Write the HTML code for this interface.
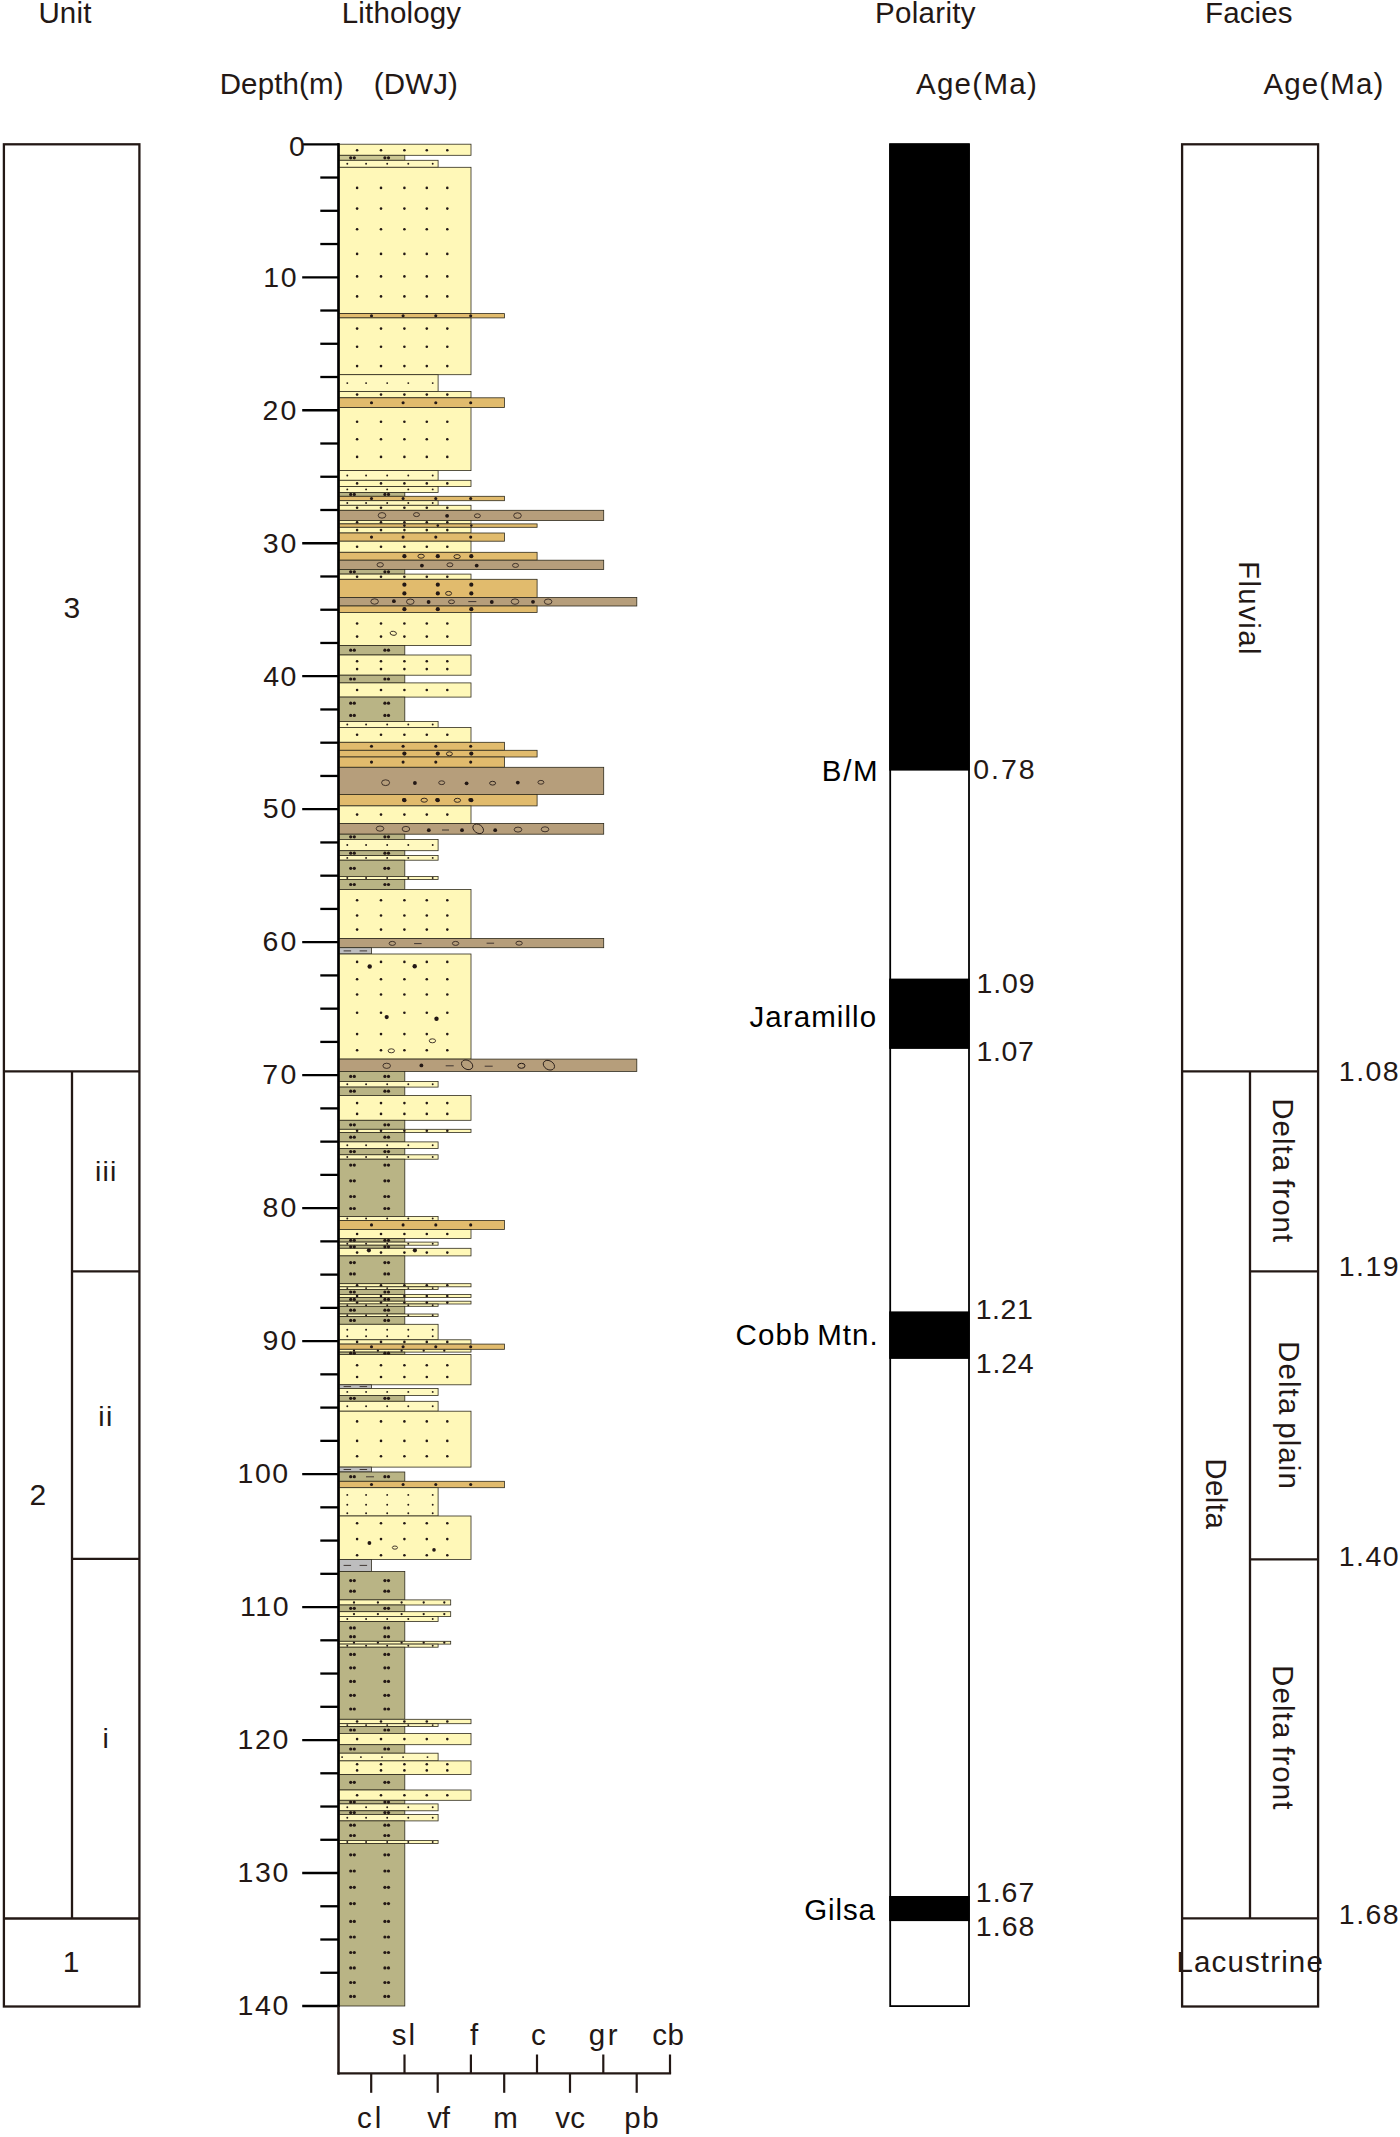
<!DOCTYPE html>
<html><head><meta charset="utf-8"><title>Stratigraphic column</title>
<style>
html,body{margin:0;padding:0;background:#fff}
svg{display:block}
text{font-family:"Liberation Sans",sans-serif;white-space:pre}
</style></head><body>
<svg width="1400" height="2137" viewBox="0 0 1400 2137">
<rect width="1400" height="2137" fill="#fff"/>
<text x="38.41" y="23.20" font-size="29.5" letter-spacing="0.157" word-spacing="0" fill="#231815">Unit</text>
<text x="341.77" y="23.20" font-size="29.5" letter-spacing="0.154" word-spacing="0" fill="#231815">Lithology</text>
<text x="875.07" y="23.40" font-size="29.5" letter-spacing="0.304" word-spacing="0" fill="#231815">Polarity</text>
<text x="1205.07" y="23.40" font-size="29.5" letter-spacing="0.118" word-spacing="0" fill="#231815">Facies</text>
<text x="219.67" y="93.70" font-size="29.5" letter-spacing="0.148" word-spacing="0" fill="#231815">Depth(m)</text>
<text x="373.86" y="93.70" font-size="29.5" letter-spacing="0.107" word-spacing="0" fill="#231815">(DWJ)</text>
<text x="915.93" y="94.00" font-size="29.5" letter-spacing="1.297" word-spacing="0" fill="#231815">Age(Ma)</text>
<text x="1263.43" y="94.00" font-size="29.5" letter-spacing="1.131" word-spacing="0" fill="#231815">Age(Ma)</text>
<rect x="3.90" y="144.30" width="135.50" height="1862.20" fill="none" stroke="#231815" stroke-width="2.3"/>
<line x1="3.90" y1="1071.40" x2="139.40" y2="1071.40" stroke="#231815" stroke-width="2.3" stroke-linecap="butt"/>
<line x1="72.00" y1="1071.40" x2="72.00" y2="1918.50" stroke="#231815" stroke-width="2.3" stroke-linecap="butt"/>
<line x1="72.00" y1="1271.30" x2="139.40" y2="1271.30" stroke="#231815" stroke-width="2.3" stroke-linecap="butt"/>
<line x1="72.00" y1="1558.80" x2="139.40" y2="1558.80" stroke="#231815" stroke-width="2.3" stroke-linecap="butt"/>
<line x1="3.90" y1="1918.50" x2="139.40" y2="1918.50" stroke="#231815" stroke-width="2.3" stroke-linecap="butt"/>
<text x="63.55" y="618.00" font-size="30" letter-spacing="0.000" word-spacing="0" fill="#231815">3</text>
<text x="94.89" y="1181.30" font-size="28.5" letter-spacing="1.200" word-spacing="0" fill="#231815">iii</text>
<text x="98.36" y="1425.70" font-size="28.5" letter-spacing="1.200" word-spacing="0" fill="#231815">ii</text>
<text x="29.47" y="1505.00" font-size="30" letter-spacing="0.000" word-spacing="0" fill="#231815">2</text>
<text x="102.43" y="1748.20" font-size="28.5" letter-spacing="0.000" word-spacing="0" fill="#231815">i</text>
<text x="62.76" y="1972.30" font-size="30" letter-spacing="0.000" word-spacing="0" fill="#231815">1</text>
<line x1="338.50" y1="143.20" x2="338.50" y2="2007.10" stroke="#000" stroke-width="2.2" stroke-linecap="butt"/>
<line x1="338.50" y1="2006.00" x2="338.50" y2="2074.40" stroke="#231815" stroke-width="2.0" stroke-linecap="butt"/>
<line x1="337.40" y1="2073.30" x2="671.10" y2="2073.30" stroke="#231815" stroke-width="2.3" stroke-linecap="butt"/>
<line x1="302.20" y1="144.30" x2="338.50" y2="144.30" stroke="#000" stroke-width="2.3" stroke-linecap="butt"/>
<line x1="320.30" y1="177.54" x2="338.50" y2="177.54" stroke="#000" stroke-width="2.3" stroke-linecap="butt"/>
<line x1="320.30" y1="210.79" x2="338.50" y2="210.79" stroke="#000" stroke-width="2.3" stroke-linecap="butt"/>
<line x1="320.30" y1="244.03" x2="338.50" y2="244.03" stroke="#000" stroke-width="2.3" stroke-linecap="butt"/>
<line x1="302.20" y1="277.28" x2="338.50" y2="277.28" stroke="#000" stroke-width="2.3" stroke-linecap="butt"/>
<line x1="320.30" y1="310.52" x2="338.50" y2="310.52" stroke="#000" stroke-width="2.3" stroke-linecap="butt"/>
<line x1="320.30" y1="343.77" x2="338.50" y2="343.77" stroke="#000" stroke-width="2.3" stroke-linecap="butt"/>
<line x1="320.30" y1="377.01" x2="338.50" y2="377.01" stroke="#000" stroke-width="2.3" stroke-linecap="butt"/>
<line x1="302.20" y1="410.26" x2="338.50" y2="410.26" stroke="#000" stroke-width="2.3" stroke-linecap="butt"/>
<line x1="320.30" y1="443.50" x2="338.50" y2="443.50" stroke="#000" stroke-width="2.3" stroke-linecap="butt"/>
<line x1="320.30" y1="476.75" x2="338.50" y2="476.75" stroke="#000" stroke-width="2.3" stroke-linecap="butt"/>
<line x1="320.30" y1="509.99" x2="338.50" y2="509.99" stroke="#000" stroke-width="2.3" stroke-linecap="butt"/>
<line x1="302.20" y1="543.24" x2="338.50" y2="543.24" stroke="#000" stroke-width="2.3" stroke-linecap="butt"/>
<line x1="320.30" y1="576.48" x2="338.50" y2="576.48" stroke="#000" stroke-width="2.3" stroke-linecap="butt"/>
<line x1="320.30" y1="609.73" x2="338.50" y2="609.73" stroke="#000" stroke-width="2.3" stroke-linecap="butt"/>
<line x1="320.30" y1="642.97" x2="338.50" y2="642.97" stroke="#000" stroke-width="2.3" stroke-linecap="butt"/>
<line x1="302.20" y1="676.21" x2="338.50" y2="676.21" stroke="#000" stroke-width="2.3" stroke-linecap="butt"/>
<line x1="320.30" y1="709.46" x2="338.50" y2="709.46" stroke="#000" stroke-width="2.3" stroke-linecap="butt"/>
<line x1="320.30" y1="742.70" x2="338.50" y2="742.70" stroke="#000" stroke-width="2.3" stroke-linecap="butt"/>
<line x1="320.30" y1="775.95" x2="338.50" y2="775.95" stroke="#000" stroke-width="2.3" stroke-linecap="butt"/>
<line x1="302.20" y1="809.19" x2="338.50" y2="809.19" stroke="#000" stroke-width="2.3" stroke-linecap="butt"/>
<line x1="320.30" y1="842.44" x2="338.50" y2="842.44" stroke="#000" stroke-width="2.3" stroke-linecap="butt"/>
<line x1="320.30" y1="875.68" x2="338.50" y2="875.68" stroke="#000" stroke-width="2.3" stroke-linecap="butt"/>
<line x1="320.30" y1="908.93" x2="338.50" y2="908.93" stroke="#000" stroke-width="2.3" stroke-linecap="butt"/>
<line x1="302.20" y1="942.17" x2="338.50" y2="942.17" stroke="#000" stroke-width="2.3" stroke-linecap="butt"/>
<line x1="320.30" y1="975.42" x2="338.50" y2="975.42" stroke="#000" stroke-width="2.3" stroke-linecap="butt"/>
<line x1="320.30" y1="1008.66" x2="338.50" y2="1008.66" stroke="#000" stroke-width="2.3" stroke-linecap="butt"/>
<line x1="320.30" y1="1041.91" x2="338.50" y2="1041.91" stroke="#000" stroke-width="2.3" stroke-linecap="butt"/>
<line x1="302.20" y1="1075.15" x2="338.50" y2="1075.15" stroke="#000" stroke-width="2.3" stroke-linecap="butt"/>
<line x1="320.30" y1="1108.39" x2="338.50" y2="1108.39" stroke="#000" stroke-width="2.3" stroke-linecap="butt"/>
<line x1="320.30" y1="1141.64" x2="338.50" y2="1141.64" stroke="#000" stroke-width="2.3" stroke-linecap="butt"/>
<line x1="320.30" y1="1174.88" x2="338.50" y2="1174.88" stroke="#000" stroke-width="2.3" stroke-linecap="butt"/>
<line x1="302.20" y1="1208.13" x2="338.50" y2="1208.13" stroke="#000" stroke-width="2.3" stroke-linecap="butt"/>
<line x1="320.30" y1="1241.37" x2="338.50" y2="1241.37" stroke="#000" stroke-width="2.3" stroke-linecap="butt"/>
<line x1="320.30" y1="1274.62" x2="338.50" y2="1274.62" stroke="#000" stroke-width="2.3" stroke-linecap="butt"/>
<line x1="320.30" y1="1307.86" x2="338.50" y2="1307.86" stroke="#000" stroke-width="2.3" stroke-linecap="butt"/>
<line x1="302.20" y1="1341.11" x2="338.50" y2="1341.11" stroke="#000" stroke-width="2.3" stroke-linecap="butt"/>
<line x1="320.30" y1="1374.35" x2="338.50" y2="1374.35" stroke="#000" stroke-width="2.3" stroke-linecap="butt"/>
<line x1="320.30" y1="1407.60" x2="338.50" y2="1407.60" stroke="#000" stroke-width="2.3" stroke-linecap="butt"/>
<line x1="320.30" y1="1440.84" x2="338.50" y2="1440.84" stroke="#000" stroke-width="2.3" stroke-linecap="butt"/>
<line x1="302.20" y1="1474.09" x2="338.50" y2="1474.09" stroke="#000" stroke-width="2.3" stroke-linecap="butt"/>
<line x1="320.30" y1="1507.33" x2="338.50" y2="1507.33" stroke="#000" stroke-width="2.3" stroke-linecap="butt"/>
<line x1="320.30" y1="1540.58" x2="338.50" y2="1540.58" stroke="#000" stroke-width="2.3" stroke-linecap="butt"/>
<line x1="320.30" y1="1573.82" x2="338.50" y2="1573.82" stroke="#000" stroke-width="2.3" stroke-linecap="butt"/>
<line x1="302.20" y1="1607.06" x2="338.50" y2="1607.06" stroke="#000" stroke-width="2.3" stroke-linecap="butt"/>
<line x1="320.30" y1="1640.31" x2="338.50" y2="1640.31" stroke="#000" stroke-width="2.3" stroke-linecap="butt"/>
<line x1="320.30" y1="1673.55" x2="338.50" y2="1673.55" stroke="#000" stroke-width="2.3" stroke-linecap="butt"/>
<line x1="320.30" y1="1706.80" x2="338.50" y2="1706.80" stroke="#000" stroke-width="2.3" stroke-linecap="butt"/>
<line x1="302.20" y1="1740.04" x2="338.50" y2="1740.04" stroke="#000" stroke-width="2.3" stroke-linecap="butt"/>
<line x1="320.30" y1="1773.29" x2="338.50" y2="1773.29" stroke="#000" stroke-width="2.3" stroke-linecap="butt"/>
<line x1="320.30" y1="1806.53" x2="338.50" y2="1806.53" stroke="#000" stroke-width="2.3" stroke-linecap="butt"/>
<line x1="320.30" y1="1839.78" x2="338.50" y2="1839.78" stroke="#000" stroke-width="2.3" stroke-linecap="butt"/>
<line x1="302.20" y1="1873.02" x2="338.50" y2="1873.02" stroke="#000" stroke-width="2.3" stroke-linecap="butt"/>
<line x1="320.30" y1="1906.27" x2="338.50" y2="1906.27" stroke="#000" stroke-width="2.3" stroke-linecap="butt"/>
<line x1="320.30" y1="1939.51" x2="338.50" y2="1939.51" stroke="#000" stroke-width="2.3" stroke-linecap="butt"/>
<line x1="320.30" y1="1972.76" x2="338.50" y2="1972.76" stroke="#000" stroke-width="2.3" stroke-linecap="butt"/>
<line x1="302.20" y1="2006.00" x2="338.50" y2="2006.00" stroke="#000" stroke-width="2.3" stroke-linecap="butt"/>
<text x="289.06" y="156.40" font-size="28.5" letter-spacing="0.000" word-spacing="0" fill="#231815">0</text>
<text x="263.26" y="286.58" font-size="28.5" letter-spacing="1.671" word-spacing="0" fill="#231815">10</text>
<text x="262.38" y="419.56" font-size="28.5" letter-spacing="2.359" word-spacing="0" fill="#231815">20</text>
<text x="262.73" y="552.54" font-size="28.5" letter-spacing="2.003" word-spacing="0" fill="#231815">30</text>
<text x="263.16" y="685.51" font-size="28.5" letter-spacing="1.575" word-spacing="0" fill="#231815">40</text>
<text x="262.66" y="818.49" font-size="28.5" letter-spacing="2.074" word-spacing="0" fill="#231815">50</text>
<text x="262.38" y="951.47" font-size="28.5" letter-spacing="2.359" word-spacing="0" fill="#231815">60</text>
<text x="262.30" y="1084.45" font-size="28.5" letter-spacing="2.430" word-spacing="0" fill="#231815">70</text>
<text x="262.59" y="1217.43" font-size="28.5" letter-spacing="2.145" word-spacing="0" fill="#231815">80</text>
<text x="262.45" y="1350.41" font-size="28.5" letter-spacing="2.288" word-spacing="0" fill="#231815">90</text>
<text x="237.56" y="1483.39" font-size="28.5" letter-spacing="1.491" word-spacing="0" fill="#231815">100</text>
<text x="239.96" y="1616.36" font-size="28.5" letter-spacing="1.660" word-spacing="0" fill="#231815">110</text>
<text x="237.46" y="1749.34" font-size="28.5" letter-spacing="1.691" word-spacing="0" fill="#231815">120</text>
<text x="237.46" y="1882.32" font-size="28.5" letter-spacing="1.691" word-spacing="0" fill="#231815">130</text>
<text x="237.46" y="2015.30" font-size="28.5" letter-spacing="1.691" word-spacing="0" fill="#231815">140</text>
<line x1="404.50" y1="2054.50" x2="404.50" y2="2073.60" stroke="#231815" stroke-width="2.2" stroke-linecap="butt"/>
<line x1="470.90" y1="2054.50" x2="470.90" y2="2073.60" stroke="#231815" stroke-width="2.2" stroke-linecap="butt"/>
<line x1="537.00" y1="2054.50" x2="537.00" y2="2073.60" stroke="#231815" stroke-width="2.2" stroke-linecap="butt"/>
<line x1="603.30" y1="2054.50" x2="603.30" y2="2073.60" stroke="#231815" stroke-width="2.2" stroke-linecap="butt"/>
<line x1="670.00" y1="2054.50" x2="670.00" y2="2073.60" stroke="#231815" stroke-width="2.2" stroke-linecap="butt"/>
<line x1="371.20" y1="2073.60" x2="371.20" y2="2092.80" stroke="#231815" stroke-width="2.2" stroke-linecap="butt"/>
<line x1="437.70" y1="2073.60" x2="437.70" y2="2092.80" stroke="#231815" stroke-width="2.2" stroke-linecap="butt"/>
<line x1="504.20" y1="2073.60" x2="504.20" y2="2092.80" stroke="#231815" stroke-width="2.2" stroke-linecap="butt"/>
<line x1="570.00" y1="2073.60" x2="570.00" y2="2092.80" stroke="#231815" stroke-width="2.2" stroke-linecap="butt"/>
<line x1="636.70" y1="2073.60" x2="636.70" y2="2092.80" stroke="#231815" stroke-width="2.2" stroke-linecap="butt"/>
<g>
<rect x="339.30" y="144.20" width="131.70" height="11.10" fill="#FFF8B8" stroke="#2e2a1c" stroke-width="0.8"/>
<rect x="339.30" y="155.30" width="65.50" height="5.00" fill="#CBC793" stroke="#2e2a1c" stroke-width="0.8"/>
<rect x="339.30" y="160.30" width="98.80" height="7.00" fill="#FFF9BF" stroke="#2e2a1c" stroke-width="0.8"/>
<rect x="339.30" y="167.30" width="131.70" height="146.30" fill="#FFF8B8" stroke="#2e2a1c" stroke-width="0.8"/>
<rect x="339.30" y="313.60" width="165.10" height="4.30" fill="#E1BB6D" stroke="#2e2a1c" stroke-width="0.8"/>
<rect x="339.30" y="317.90" width="131.70" height="56.80" fill="#FFF8B8" stroke="#2e2a1c" stroke-width="0.8"/>
<rect x="339.30" y="374.70" width="98.80" height="16.70" fill="#FFF9BF" stroke="#2e2a1c" stroke-width="0.8"/>
<rect x="339.30" y="391.40" width="131.70" height="6.40" fill="#FFF8B8" stroke="#2e2a1c" stroke-width="0.8"/>
<rect x="339.30" y="397.80" width="165.10" height="9.80" fill="#E1BB6D" stroke="#2e2a1c" stroke-width="0.8"/>
<rect x="339.30" y="407.60" width="131.70" height="63.00" fill="#FFF8B8" stroke="#2e2a1c" stroke-width="0.8"/>
<rect x="339.30" y="470.60" width="98.80" height="9.70" fill="#FFF9BF" stroke="#2e2a1c" stroke-width="0.8"/>
<rect x="339.30" y="480.30" width="131.70" height="6.20" fill="#FFF8B8" stroke="#2e2a1c" stroke-width="0.8"/>
<rect x="339.30" y="486.50" width="98.80" height="5.90" fill="#FFF9BF" stroke="#2e2a1c" stroke-width="0.8"/>
<rect x="339.30" y="492.40" width="65.50" height="3.90" fill="#B9B485" stroke="#2e2a1c" stroke-width="0.8"/>
<rect x="339.30" y="496.30" width="165.10" height="4.40" fill="#E1BB6D" stroke="#2e2a1c" stroke-width="0.8"/>
<rect x="339.30" y="500.70" width="98.80" height="4.60" fill="#FFF9BF" stroke="#2e2a1c" stroke-width="0.8"/>
<rect x="339.30" y="505.30" width="131.70" height="5.00" fill="#FFF8B8" stroke="#2e2a1c" stroke-width="0.8"/>
<rect x="339.30" y="510.30" width="264.40" height="10.20" fill="#B69E7B" stroke="#2e2a1c" stroke-width="0.8"/>
<rect x="339.30" y="520.50" width="131.70" height="3.40" fill="#FFF8B8" stroke="#2e2a1c" stroke-width="0.8"/>
<rect x="339.30" y="523.90" width="197.80" height="3.40" fill="#E1BB6D" stroke="#2e2a1c" stroke-width="0.8"/>
<rect x="339.30" y="527.30" width="131.70" height="5.70" fill="#FFF8B8" stroke="#2e2a1c" stroke-width="0.8"/>
<rect x="339.30" y="533.00" width="165.10" height="8.20" fill="#E1BB6D" stroke="#2e2a1c" stroke-width="0.8"/>
<rect x="339.30" y="541.20" width="131.70" height="11.10" fill="#FFF8B8" stroke="#2e2a1c" stroke-width="0.8"/>
<rect x="339.30" y="552.30" width="197.80" height="7.90" fill="#E1BB6D" stroke="#2e2a1c" stroke-width="0.8"/>
<rect x="339.30" y="560.20" width="264.40" height="9.30" fill="#B69E7B" stroke="#2e2a1c" stroke-width="0.8"/>
<rect x="339.30" y="569.50" width="65.50" height="4.60" fill="#B9B485" stroke="#2e2a1c" stroke-width="0.8"/>
<rect x="339.30" y="574.10" width="131.70" height="5.20" fill="#FFF8B8" stroke="#2e2a1c" stroke-width="0.8"/>
<rect x="339.30" y="579.30" width="197.80" height="18.20" fill="#E1BB6D" stroke="#2e2a1c" stroke-width="0.8"/>
<rect x="339.30" y="597.50" width="297.50" height="8.50" fill="#B69E7B" stroke="#2e2a1c" stroke-width="0.8"/>
<rect x="339.30" y="606.00" width="197.80" height="6.40" fill="#E1BB6D" stroke="#2e2a1c" stroke-width="0.8"/>
<rect x="339.30" y="612.40" width="131.70" height="33.10" fill="#FFF8B8" stroke="#2e2a1c" stroke-width="0.8"/>
<rect x="339.30" y="645.50" width="65.50" height="9.50" fill="#B9B485" stroke="#2e2a1c" stroke-width="0.8"/>
<rect x="339.30" y="655.00" width="131.70" height="20.20" fill="#FFF8B8" stroke="#2e2a1c" stroke-width="0.8"/>
<rect x="339.30" y="675.20" width="65.50" height="7.70" fill="#B9B485" stroke="#2e2a1c" stroke-width="0.8"/>
<rect x="339.30" y="682.90" width="131.70" height="14.20" fill="#FFF8B8" stroke="#2e2a1c" stroke-width="0.8"/>
<rect x="339.30" y="697.10" width="65.50" height="24.40" fill="#B9B485" stroke="#2e2a1c" stroke-width="0.8"/>
<rect x="339.30" y="721.50" width="98.80" height="5.90" fill="#FFF9BF" stroke="#2e2a1c" stroke-width="0.8"/>
<rect x="339.30" y="727.40" width="131.70" height="14.90" fill="#FFF8B8" stroke="#2e2a1c" stroke-width="0.8"/>
<rect x="339.30" y="742.30" width="165.10" height="8.00" fill="#E1BB6D" stroke="#2e2a1c" stroke-width="0.8"/>
<rect x="339.30" y="750.30" width="197.80" height="6.70" fill="#E1BB6D" stroke="#2e2a1c" stroke-width="0.8"/>
<rect x="339.30" y="757.00" width="165.10" height="10.30" fill="#E1BB6D" stroke="#2e2a1c" stroke-width="0.8"/>
<rect x="339.30" y="767.30" width="264.40" height="27.20" fill="#B69E7B" stroke="#2e2a1c" stroke-width="0.8"/>
<rect x="339.30" y="794.50" width="197.80" height="11.40" fill="#E1BB6D" stroke="#2e2a1c" stroke-width="0.8"/>
<rect x="339.30" y="805.90" width="131.70" height="17.50" fill="#FFF8B8" stroke="#2e2a1c" stroke-width="0.8"/>
<rect x="339.30" y="823.40" width="264.40" height="10.80" fill="#B69E7B" stroke="#2e2a1c" stroke-width="0.8"/>
<rect x="339.30" y="834.20" width="65.50" height="5.20" fill="#B9B485" stroke="#2e2a1c" stroke-width="0.8"/>
<rect x="339.30" y="839.40" width="98.80" height="11.30" fill="#FFF9BF" stroke="#2e2a1c" stroke-width="0.8"/>
<rect x="339.30" y="850.70" width="65.50" height="4.90" fill="#B9B485" stroke="#2e2a1c" stroke-width="0.8"/>
<rect x="339.30" y="855.60" width="98.80" height="4.60" fill="#FFF9BF" stroke="#2e2a1c" stroke-width="0.8"/>
<rect x="339.30" y="860.20" width="65.50" height="16.20" fill="#B9B485" stroke="#2e2a1c" stroke-width="0.8"/>
<rect x="339.30" y="876.40" width="98.80" height="3.10" fill="#FFF9BF" stroke="#2e2a1c" stroke-width="0.8"/>
<rect x="339.30" y="879.50" width="65.50" height="10.00" fill="#B9B485" stroke="#2e2a1c" stroke-width="0.8"/>
<rect x="339.30" y="889.50" width="131.70" height="48.90" fill="#FFF8B8" stroke="#2e2a1c" stroke-width="0.8"/>
<rect x="339.30" y="938.40" width="264.40" height="9.30" fill="#B69E7B" stroke="#2e2a1c" stroke-width="0.8"/>
<rect x="339.30" y="947.70" width="32.10" height="6.30" fill="#BDBDBE" stroke="#2e2a1c" stroke-width="0.8"/>
<rect x="339.30" y="954.00" width="131.70" height="105.10" fill="#FFF8B8" stroke="#2e2a1c" stroke-width="0.8"/>
<rect x="339.30" y="1059.10" width="297.50" height="12.30" fill="#B69E7B" stroke="#2e2a1c" stroke-width="0.8"/>
<rect x="339.30" y="1071.40" width="65.50" height="10.00" fill="#B9B485" stroke="#2e2a1c" stroke-width="0.8"/>
<rect x="339.30" y="1081.40" width="98.80" height="5.70" fill="#FFF9BF" stroke="#2e2a1c" stroke-width="0.8"/>
<rect x="339.30" y="1087.10" width="65.50" height="8.30" fill="#B9B485" stroke="#2e2a1c" stroke-width="0.8"/>
<rect x="339.30" y="1095.40" width="131.70" height="24.90" fill="#FFF8B8" stroke="#2e2a1c" stroke-width="0.8"/>
<rect x="339.30" y="1120.30" width="65.50" height="9.00" fill="#B9B485" stroke="#2e2a1c" stroke-width="0.8"/>
<rect x="339.30" y="1129.30" width="131.70" height="3.10" fill="#FFF8B8" stroke="#2e2a1c" stroke-width="0.8"/>
<rect x="339.30" y="1132.40" width="65.50" height="9.50" fill="#B9B485" stroke="#2e2a1c" stroke-width="0.8"/>
<rect x="339.30" y="1141.90" width="98.80" height="6.50" fill="#FFF9BF" stroke="#2e2a1c" stroke-width="0.8"/>
<rect x="339.30" y="1148.40" width="65.50" height="6.40" fill="#B9B485" stroke="#2e2a1c" stroke-width="0.8"/>
<rect x="339.30" y="1154.80" width="98.80" height="4.40" fill="#FFF9BF" stroke="#2e2a1c" stroke-width="0.8"/>
<rect x="339.30" y="1159.20" width="65.50" height="57.30" fill="#B9B485" stroke="#2e2a1c" stroke-width="0.8"/>
<rect x="339.30" y="1216.50" width="98.80" height="3.90" fill="#FFF9BF" stroke="#2e2a1c" stroke-width="0.8"/>
<rect x="339.30" y="1220.40" width="165.10" height="9.00" fill="#E1BB6D" stroke="#2e2a1c" stroke-width="0.8"/>
<rect x="339.30" y="1229.40" width="131.70" height="9.20" fill="#FFF8B8" stroke="#2e2a1c" stroke-width="0.8"/>
<rect x="339.30" y="1238.60" width="65.50" height="3.50" fill="#B9B485" stroke="#2e2a1c" stroke-width="0.8"/>
<rect x="339.30" y="1242.10" width="98.80" height="3.10" fill="#FFF9BF" stroke="#2e2a1c" stroke-width="0.8"/>
<rect x="339.30" y="1245.20" width="65.50" height="3.10" fill="#B9B485" stroke="#2e2a1c" stroke-width="0.8"/>
<rect x="339.30" y="1248.30" width="131.70" height="7.60" fill="#FFF8B8" stroke="#2e2a1c" stroke-width="0.8"/>
<rect x="339.30" y="1255.90" width="65.50" height="27.80" fill="#B9B485" stroke="#2e2a1c" stroke-width="0.8"/>
<rect x="339.30" y="1283.70" width="131.70" height="3.10" fill="#FFF8B8" stroke="#2e2a1c" stroke-width="0.8"/>
<rect x="339.30" y="1286.80" width="98.80" height="2.60" fill="#FFF9BF" stroke="#2e2a1c" stroke-width="0.8"/>
<rect x="339.30" y="1289.40" width="65.50" height="5.10" fill="#B9B485" stroke="#2e2a1c" stroke-width="0.8"/>
<rect x="339.30" y="1294.50" width="131.70" height="3.10" fill="#FFF8B8" stroke="#2e2a1c" stroke-width="0.8"/>
<rect x="339.30" y="1297.60" width="65.50" height="3.60" fill="#B9B485" stroke="#2e2a1c" stroke-width="0.8"/>
<rect x="339.30" y="1301.20" width="131.70" height="2.80" fill="#FFF8B8" stroke="#2e2a1c" stroke-width="0.8"/>
<rect x="339.30" y="1304.00" width="98.80" height="2.30" fill="#FFF9BF" stroke="#2e2a1c" stroke-width="0.8"/>
<rect x="339.30" y="1306.30" width="65.50" height="7.70" fill="#B9B485" stroke="#2e2a1c" stroke-width="0.8"/>
<rect x="339.30" y="1314.00" width="98.80" height="2.60" fill="#FFF9BF" stroke="#2e2a1c" stroke-width="0.8"/>
<rect x="339.30" y="1316.60" width="65.50" height="7.70" fill="#B9B485" stroke="#2e2a1c" stroke-width="0.8"/>
<rect x="339.30" y="1324.30" width="98.80" height="15.50" fill="#FFF9BF" stroke="#2e2a1c" stroke-width="0.8"/>
<rect x="339.30" y="1339.80" width="131.70" height="4.30" fill="#FFF8B8" stroke="#2e2a1c" stroke-width="0.8"/>
<rect x="339.30" y="1344.10" width="165.10" height="5.20" fill="#E1BB6D" stroke="#2e2a1c" stroke-width="0.8"/>
<rect x="339.30" y="1349.30" width="131.70" height="2.80" fill="#FFF8B8" stroke="#2e2a1c" stroke-width="0.8"/>
<rect x="339.30" y="1352.10" width="65.50" height="2.30" fill="#B9B485" stroke="#2e2a1c" stroke-width="0.8"/>
<rect x="339.30" y="1354.40" width="131.70" height="30.40" fill="#FFF8B8" stroke="#2e2a1c" stroke-width="0.8"/>
<rect x="339.30" y="1384.80" width="32.10" height="3.60" fill="#BDBDBE" stroke="#2e2a1c" stroke-width="0.8"/>
<rect x="339.30" y="1388.40" width="98.80" height="7.00" fill="#FFF9BF" stroke="#2e2a1c" stroke-width="0.8"/>
<rect x="339.30" y="1395.40" width="65.50" height="5.90" fill="#B9B485" stroke="#2e2a1c" stroke-width="0.8"/>
<rect x="339.30" y="1401.30" width="98.80" height="9.90" fill="#FFF9BF" stroke="#2e2a1c" stroke-width="0.8"/>
<rect x="339.30" y="1411.20" width="131.70" height="55.90" fill="#FFF8B8" stroke="#2e2a1c" stroke-width="0.8"/>
<rect x="339.30" y="1467.10" width="32.10" height="4.90" fill="#BDBDBE" stroke="#2e2a1c" stroke-width="0.8"/>
<rect x="339.30" y="1472.00" width="65.50" height="9.30" fill="#B9B485" stroke="#2e2a1c" stroke-width="0.8"/>
<rect x="339.30" y="1481.30" width="165.10" height="6.40" fill="#E1BB6D" stroke="#2e2a1c" stroke-width="0.8"/>
<rect x="339.30" y="1487.70" width="98.80" height="28.30" fill="#FFF9BF" stroke="#2e2a1c" stroke-width="0.8"/>
<rect x="339.30" y="1516.00" width="131.70" height="43.40" fill="#FFF8B8" stroke="#2e2a1c" stroke-width="0.8"/>
<rect x="339.30" y="1559.40" width="32.10" height="12.00" fill="#BDBDBE" stroke="#2e2a1c" stroke-width="0.8"/>
<rect x="339.30" y="1571.40" width="65.50" height="28.50" fill="#B9B485" stroke="#2e2a1c" stroke-width="0.8"/>
<rect x="339.30" y="1599.90" width="111.40" height="5.10" fill="#FFF8B8" stroke="#2e2a1c" stroke-width="0.8"/>
<rect x="339.30" y="1605.00" width="65.50" height="6.70" fill="#B9B485" stroke="#2e2a1c" stroke-width="0.8"/>
<rect x="339.30" y="1611.70" width="111.40" height="4.70" fill="#FFF8B8" stroke="#2e2a1c" stroke-width="0.8"/>
<rect x="339.30" y="1616.40" width="98.80" height="5.10" fill="#FFF9BF" stroke="#2e2a1c" stroke-width="0.8"/>
<rect x="339.30" y="1621.50" width="65.50" height="19.80" fill="#B9B485" stroke="#2e2a1c" stroke-width="0.8"/>
<rect x="339.30" y="1641.30" width="111.40" height="2.80" fill="#FFF8B8" stroke="#2e2a1c" stroke-width="0.8"/>
<rect x="339.30" y="1644.10" width="98.80" height="3.10" fill="#FFF9BF" stroke="#2e2a1c" stroke-width="0.8"/>
<rect x="339.30" y="1647.20" width="65.50" height="72.10" fill="#B9B485" stroke="#2e2a1c" stroke-width="0.8"/>
<rect x="339.30" y="1719.30" width="131.70" height="4.40" fill="#FFF8B8" stroke="#2e2a1c" stroke-width="0.8"/>
<rect x="339.30" y="1723.70" width="98.80" height="2.80" fill="#FFF9BF" stroke="#2e2a1c" stroke-width="0.8"/>
<rect x="339.30" y="1726.50" width="65.50" height="6.90" fill="#B9B485" stroke="#2e2a1c" stroke-width="0.8"/>
<rect x="339.30" y="1733.40" width="131.70" height="11.30" fill="#FFF8B8" stroke="#2e2a1c" stroke-width="0.8"/>
<rect x="339.30" y="1744.70" width="65.50" height="8.50" fill="#B9B485" stroke="#2e2a1c" stroke-width="0.8"/>
<rect x="339.30" y="1753.20" width="98.80" height="7.70" fill="#FFF9BF" stroke="#2e2a1c" stroke-width="0.8"/>
<rect x="339.30" y="1760.90" width="131.70" height="13.70" fill="#FFF8B8" stroke="#2e2a1c" stroke-width="0.8"/>
<rect x="339.30" y="1774.60" width="65.50" height="15.40" fill="#B9B485" stroke="#2e2a1c" stroke-width="0.8"/>
<rect x="339.30" y="1790.00" width="131.70" height="10.30" fill="#FFF8B8" stroke="#2e2a1c" stroke-width="0.8"/>
<rect x="339.30" y="1800.30" width="65.50" height="3.60" fill="#B9B485" stroke="#2e2a1c" stroke-width="0.8"/>
<rect x="339.30" y="1803.90" width="98.80" height="6.90" fill="#FFF9BF" stroke="#2e2a1c" stroke-width="0.8"/>
<rect x="339.30" y="1810.80" width="65.50" height="3.60" fill="#B9B485" stroke="#2e2a1c" stroke-width="0.8"/>
<rect x="339.30" y="1814.40" width="98.80" height="6.50" fill="#FFF9BF" stroke="#2e2a1c" stroke-width="0.8"/>
<rect x="339.30" y="1820.90" width="65.50" height="19.50" fill="#B9B485" stroke="#2e2a1c" stroke-width="0.8"/>
<rect x="339.30" y="1840.40" width="98.80" height="3.10" fill="#FFF9BF" stroke="#2e2a1c" stroke-width="0.8"/>
<rect x="339.30" y="1843.50" width="65.50" height="162.50" fill="#B9B485" stroke="#2e2a1c" stroke-width="0.8"/>
</g><g>
<circle cx="357.1" cy="150.3" r="1.3" fill="#231815"/>
<circle cx="381.0" cy="150.3" r="1.3" fill="#231815"/>
<circle cx="404.4" cy="150.3" r="1.3" fill="#231815"/>
<circle cx="426.8" cy="150.3" r="1.3" fill="#231815"/>
<circle cx="447.3" cy="150.3" r="1.3" fill="#231815"/>
<circle cx="350.7" cy="157.8" r="1.6" fill="#231815"/>
<circle cx="354.3" cy="157.8" r="1.6" fill="#231815"/>
<circle cx="384.9" cy="157.8" r="1.6" fill="#231815"/>
<circle cx="388.5" cy="157.8" r="1.6" fill="#231815"/>
<circle cx="347.3" cy="163.7" r="0.95" fill="#231815"/>
<circle cx="366.1" cy="163.7" r="0.95" fill="#231815"/>
<circle cx="387.2" cy="163.7" r="0.95" fill="#231815"/>
<circle cx="408.3" cy="163.7" r="0.95" fill="#231815"/>
<circle cx="432.7" cy="163.7" r="0.95" fill="#231815"/>
<circle cx="357.1" cy="187.9" r="1.3" fill="#231815"/>
<circle cx="381.0" cy="187.9" r="1.3" fill="#231815"/>
<circle cx="404.4" cy="187.9" r="1.3" fill="#231815"/>
<circle cx="426.8" cy="187.9" r="1.3" fill="#231815"/>
<circle cx="447.3" cy="187.9" r="1.3" fill="#231815"/>
<circle cx="357.1" cy="208.6" r="1.3" fill="#231815"/>
<circle cx="381.0" cy="208.6" r="1.3" fill="#231815"/>
<circle cx="404.4" cy="208.6" r="1.3" fill="#231815"/>
<circle cx="426.8" cy="208.6" r="1.3" fill="#231815"/>
<circle cx="447.3" cy="208.6" r="1.3" fill="#231815"/>
<circle cx="357.1" cy="229.3" r="1.3" fill="#231815"/>
<circle cx="381.0" cy="229.3" r="1.3" fill="#231815"/>
<circle cx="404.4" cy="229.3" r="1.3" fill="#231815"/>
<circle cx="426.8" cy="229.3" r="1.3" fill="#231815"/>
<circle cx="447.3" cy="229.3" r="1.3" fill="#231815"/>
<circle cx="357.1" cy="253.9" r="1.3" fill="#231815"/>
<circle cx="381.0" cy="253.9" r="1.3" fill="#231815"/>
<circle cx="404.4" cy="253.9" r="1.3" fill="#231815"/>
<circle cx="426.8" cy="253.9" r="1.3" fill="#231815"/>
<circle cx="447.3" cy="253.9" r="1.3" fill="#231815"/>
<circle cx="357.1" cy="276.4" r="1.3" fill="#231815"/>
<circle cx="381.0" cy="276.4" r="1.3" fill="#231815"/>
<circle cx="404.4" cy="276.4" r="1.3" fill="#231815"/>
<circle cx="426.8" cy="276.4" r="1.3" fill="#231815"/>
<circle cx="447.3" cy="276.4" r="1.3" fill="#231815"/>
<circle cx="357.1" cy="296.4" r="1.3" fill="#231815"/>
<circle cx="381.0" cy="296.4" r="1.3" fill="#231815"/>
<circle cx="404.4" cy="296.4" r="1.3" fill="#231815"/>
<circle cx="426.8" cy="296.4" r="1.3" fill="#231815"/>
<circle cx="447.3" cy="296.4" r="1.3" fill="#231815"/>
<circle cx="371.5" cy="315.8" r="1.55" fill="#231815"/>
<circle cx="403.1" cy="315.8" r="1.55" fill="#231815"/>
<circle cx="435.8" cy="315.8" r="1.55" fill="#231815"/>
<circle cx="470.7" cy="315.8" r="1.55" fill="#231815"/>
<circle cx="357.1" cy="328.6" r="1.3" fill="#231815"/>
<circle cx="381.0" cy="328.6" r="1.3" fill="#231815"/>
<circle cx="404.4" cy="328.6" r="1.3" fill="#231815"/>
<circle cx="426.8" cy="328.6" r="1.3" fill="#231815"/>
<circle cx="447.3" cy="328.6" r="1.3" fill="#231815"/>
<circle cx="357.1" cy="346.8" r="1.3" fill="#231815"/>
<circle cx="381.0" cy="346.8" r="1.3" fill="#231815"/>
<circle cx="404.4" cy="346.8" r="1.3" fill="#231815"/>
<circle cx="426.8" cy="346.8" r="1.3" fill="#231815"/>
<circle cx="447.3" cy="346.8" r="1.3" fill="#231815"/>
<circle cx="357.1" cy="366.1" r="1.3" fill="#231815"/>
<circle cx="381.0" cy="366.1" r="1.3" fill="#231815"/>
<circle cx="404.4" cy="366.1" r="1.3" fill="#231815"/>
<circle cx="426.8" cy="366.1" r="1.3" fill="#231815"/>
<circle cx="447.3" cy="366.1" r="1.3" fill="#231815"/>
<circle cx="347.3" cy="383.1" r="0.95" fill="#231815"/>
<circle cx="366.1" cy="383.1" r="0.95" fill="#231815"/>
<circle cx="387.2" cy="383.1" r="0.95" fill="#231815"/>
<circle cx="408.3" cy="383.1" r="0.95" fill="#231815"/>
<circle cx="432.7" cy="383.1" r="0.95" fill="#231815"/>
<circle cx="357.1" cy="394.6" r="1.3" fill="#231815"/>
<circle cx="381.0" cy="394.6" r="1.3" fill="#231815"/>
<circle cx="404.4" cy="394.6" r="1.3" fill="#231815"/>
<circle cx="426.8" cy="394.6" r="1.3" fill="#231815"/>
<circle cx="447.3" cy="394.6" r="1.3" fill="#231815"/>
<circle cx="371.5" cy="402.7" r="1.55" fill="#231815"/>
<circle cx="403.1" cy="402.7" r="1.55" fill="#231815"/>
<circle cx="435.8" cy="402.7" r="1.55" fill="#231815"/>
<circle cx="470.7" cy="402.7" r="1.55" fill="#231815"/>
<circle cx="357.1" cy="421.7" r="1.3" fill="#231815"/>
<circle cx="381.0" cy="421.7" r="1.3" fill="#231815"/>
<circle cx="404.4" cy="421.7" r="1.3" fill="#231815"/>
<circle cx="426.8" cy="421.7" r="1.3" fill="#231815"/>
<circle cx="447.3" cy="421.7" r="1.3" fill="#231815"/>
<circle cx="357.1" cy="439.2" r="1.3" fill="#231815"/>
<circle cx="381.0" cy="439.2" r="1.3" fill="#231815"/>
<circle cx="404.4" cy="439.2" r="1.3" fill="#231815"/>
<circle cx="426.8" cy="439.2" r="1.3" fill="#231815"/>
<circle cx="447.3" cy="439.2" r="1.3" fill="#231815"/>
<circle cx="357.1" cy="456.9" r="1.3" fill="#231815"/>
<circle cx="381.0" cy="456.9" r="1.3" fill="#231815"/>
<circle cx="404.4" cy="456.9" r="1.3" fill="#231815"/>
<circle cx="426.8" cy="456.9" r="1.3" fill="#231815"/>
<circle cx="447.3" cy="456.9" r="1.3" fill="#231815"/>
<circle cx="347.3" cy="475.5" r="0.95" fill="#231815"/>
<circle cx="366.1" cy="475.5" r="0.95" fill="#231815"/>
<circle cx="387.2" cy="475.5" r="0.95" fill="#231815"/>
<circle cx="408.3" cy="475.5" r="0.95" fill="#231815"/>
<circle cx="432.7" cy="475.5" r="0.95" fill="#231815"/>
<circle cx="357.1" cy="483.4" r="1.3" fill="#231815"/>
<circle cx="381.0" cy="483.4" r="1.3" fill="#231815"/>
<circle cx="404.4" cy="483.4" r="1.3" fill="#231815"/>
<circle cx="426.8" cy="483.4" r="1.3" fill="#231815"/>
<circle cx="447.3" cy="483.4" r="1.3" fill="#231815"/>
<circle cx="347.3" cy="489.4" r="0.95" fill="#231815"/>
<circle cx="366.1" cy="489.4" r="0.95" fill="#231815"/>
<circle cx="387.2" cy="489.4" r="0.95" fill="#231815"/>
<circle cx="408.3" cy="489.4" r="0.95" fill="#231815"/>
<circle cx="432.7" cy="489.4" r="0.95" fill="#231815"/>
<circle cx="350.7" cy="494.4" r="1.6" fill="#231815"/>
<circle cx="354.3" cy="494.4" r="1.6" fill="#231815"/>
<circle cx="384.9" cy="494.4" r="1.6" fill="#231815"/>
<circle cx="388.5" cy="494.4" r="1.6" fill="#231815"/>
<circle cx="371.5" cy="498.5" r="1.55" fill="#231815"/>
<circle cx="403.1" cy="498.5" r="1.55" fill="#231815"/>
<circle cx="435.8" cy="498.5" r="1.55" fill="#231815"/>
<circle cx="470.7" cy="498.5" r="1.55" fill="#231815"/>
<circle cx="347.3" cy="503.0" r="0.95" fill="#231815"/>
<circle cx="366.1" cy="503.0" r="0.95" fill="#231815"/>
<circle cx="387.2" cy="503.0" r="0.95" fill="#231815"/>
<circle cx="408.3" cy="503.0" r="0.95" fill="#231815"/>
<circle cx="432.7" cy="503.0" r="0.95" fill="#231815"/>
<circle cx="357.1" cy="507.8" r="1.3" fill="#231815"/>
<circle cx="381.0" cy="507.8" r="1.3" fill="#231815"/>
<circle cx="404.4" cy="507.8" r="1.3" fill="#231815"/>
<circle cx="426.8" cy="507.8" r="1.3" fill="#231815"/>
<circle cx="447.3" cy="507.8" r="1.3" fill="#231815"/>
<ellipse cx="382.0" cy="515.4" rx="3.8" ry="2.8" fill="none" stroke="#231815" stroke-width="0.8" transform="rotate(0 382.0 515.4)"/>
<ellipse cx="416.5" cy="514.6" rx="3" ry="2" fill="none" stroke="#231815" stroke-width="0.8" transform="rotate(0 416.5 514.6)"/>
<circle cx="447.1" cy="515.8" r="1.9" fill="#231815"/>
<ellipse cx="477.4" cy="515.8" rx="3" ry="2" fill="none" stroke="#231815" stroke-width="0.8" transform="rotate(0 477.4 515.8)"/>
<ellipse cx="517.5" cy="515.6" rx="3.8" ry="2.8" fill="none" stroke="#231815" stroke-width="0.8" transform="rotate(0 517.5 515.6)"/>
<circle cx="357.1" cy="522.2" r="1.3" fill="#231815"/>
<circle cx="381.0" cy="522.2" r="1.3" fill="#231815"/>
<circle cx="404.4" cy="522.2" r="1.3" fill="#231815"/>
<circle cx="426.8" cy="522.2" r="1.3" fill="#231815"/>
<circle cx="447.3" cy="522.2" r="1.3" fill="#231815"/>
<circle cx="404.4" cy="525.6" r="1.3" fill="#231815"/>
<circle cx="437.8" cy="525.6" r="1.3" fill="#231815"/>
<circle cx="471.3" cy="525.6" r="1.3" fill="#231815"/>
<circle cx="357.1" cy="530.1" r="1.3" fill="#231815"/>
<circle cx="381.0" cy="530.1" r="1.3" fill="#231815"/>
<circle cx="404.4" cy="530.1" r="1.3" fill="#231815"/>
<circle cx="426.8" cy="530.1" r="1.3" fill="#231815"/>
<circle cx="447.3" cy="530.1" r="1.3" fill="#231815"/>
<circle cx="371.5" cy="537.1" r="1.55" fill="#231815"/>
<circle cx="403.1" cy="537.1" r="1.55" fill="#231815"/>
<circle cx="435.8" cy="537.1" r="1.55" fill="#231815"/>
<circle cx="470.7" cy="537.1" r="1.55" fill="#231815"/>
<circle cx="357.1" cy="546.8" r="1.3" fill="#231815"/>
<circle cx="381.0" cy="546.8" r="1.3" fill="#231815"/>
<circle cx="404.4" cy="546.8" r="1.3" fill="#231815"/>
<circle cx="426.8" cy="546.8" r="1.3" fill="#231815"/>
<circle cx="447.3" cy="546.8" r="1.3" fill="#231815"/>
<circle cx="404.4" cy="556.2" r="2.1" fill="#231815"/>
<circle cx="437.8" cy="556.2" r="2.1" fill="#231815"/>
<circle cx="471.3" cy="556.2" r="2.1" fill="#231815"/>
<ellipse cx="421.1" cy="556.2" rx="3.2" ry="2" fill="none" stroke="#231815" stroke-width="0.9" transform="rotate(0 421.1 556.2)"/>
<ellipse cx="457.1" cy="556.6" rx="3.2" ry="2" fill="none" stroke="#231815" stroke-width="0.9" transform="rotate(0 457.1 556.6)"/>
<ellipse cx="380.2" cy="564.8" rx="3.2" ry="2.2" fill="none" stroke="#231815" stroke-width="0.8" transform="rotate(0 380.2 564.8)"/>
<circle cx="421.9" cy="565.6" r="1.9" fill="#231815"/>
<ellipse cx="449.9" cy="564.8" rx="3" ry="2" fill="none" stroke="#231815" stroke-width="0.8" transform="rotate(0 449.9 564.8)"/>
<circle cx="476.7" cy="565.6" r="1.9" fill="#231815"/>
<ellipse cx="515.5" cy="565.4" rx="3" ry="2" fill="none" stroke="#231815" stroke-width="0.8" transform="rotate(0 515.5 565.4)"/>
<circle cx="350.7" cy="571.8" r="1.6" fill="#231815"/>
<circle cx="354.3" cy="571.8" r="1.6" fill="#231815"/>
<circle cx="384.9" cy="571.8" r="1.6" fill="#231815"/>
<circle cx="388.5" cy="571.8" r="1.6" fill="#231815"/>
<circle cx="357.1" cy="576.7" r="1.3" fill="#231815"/>
<circle cx="381.0" cy="576.7" r="1.3" fill="#231815"/>
<circle cx="404.4" cy="576.7" r="1.3" fill="#231815"/>
<circle cx="426.8" cy="576.7" r="1.3" fill="#231815"/>
<circle cx="447.3" cy="576.7" r="1.3" fill="#231815"/>
<circle cx="404.4" cy="584.7" r="2.1" fill="#231815"/>
<circle cx="437.8" cy="584.7" r="2.1" fill="#231815"/>
<circle cx="471.3" cy="584.7" r="2.1" fill="#231815"/>
<circle cx="404.4" cy="593.4" r="2.1" fill="#231815"/>
<circle cx="437.8" cy="593.4" r="2.1" fill="#231815"/>
<circle cx="471.3" cy="593.4" r="2.1" fill="#231815"/>
<ellipse cx="448.6" cy="593.4" rx="3" ry="2" fill="none" stroke="#231815" stroke-width="0.9" transform="rotate(0 448.6 593.4)"/>
<ellipse cx="374.6" cy="601.5" rx="3.8" ry="2.7" fill="none" stroke="#231815" stroke-width="0.8" transform="rotate(0 374.6 601.5)"/>
<circle cx="393.9" cy="601.2" r="1.9" fill="#231815"/>
<ellipse cx="410.3" cy="601.7" rx="3.8" ry="2.7" fill="none" stroke="#231815" stroke-width="0.8" transform="rotate(0 410.3 601.7)"/>
<circle cx="428.6" cy="602.0" r="1.9" fill="#231815"/>
<ellipse cx="451.5" cy="601.8" rx="3" ry="1.9" fill="none" stroke="#231815" stroke-width="0.8" transform="rotate(0 451.5 601.8)"/>
<line x1="468.3" y1="601.6" x2="476.3" y2="601.6" stroke="#3a302d" stroke-width="0.95"/>
<circle cx="491.8" cy="602.0" r="1.9" fill="#231815"/>
<ellipse cx="515.0" cy="601.6" rx="3.8" ry="2.7" fill="none" stroke="#231815" stroke-width="0.8" transform="rotate(0 515.0 601.6)"/>
<circle cx="533.0" cy="601.8" r="1.9" fill="#231815"/>
<ellipse cx="548.1" cy="601.7" rx="3.8" ry="2.7" fill="none" stroke="#231815" stroke-width="0.8" transform="rotate(0 548.1 601.7)"/>
<circle cx="404.4" cy="609.2" r="2.1" fill="#231815"/>
<circle cx="437.8" cy="609.2" r="2.1" fill="#231815"/>
<circle cx="471.3" cy="609.2" r="2.1" fill="#231815"/>
<circle cx="357.1" cy="623.5" r="1.3" fill="#231815"/>
<circle cx="381.0" cy="623.5" r="1.3" fill="#231815"/>
<circle cx="404.4" cy="623.5" r="1.3" fill="#231815"/>
<circle cx="426.8" cy="623.5" r="1.3" fill="#231815"/>
<circle cx="447.3" cy="623.5" r="1.3" fill="#231815"/>
<circle cx="357.1" cy="636.6" r="1.3" fill="#231815"/>
<circle cx="381.0" cy="636.6" r="1.3" fill="#231815"/>
<circle cx="404.4" cy="636.6" r="1.3" fill="#231815"/>
<circle cx="426.8" cy="636.6" r="1.3" fill="#231815"/>
<circle cx="447.3" cy="636.6" r="1.3" fill="#231815"/>
<ellipse cx="393.3" cy="633.3" rx="3.2" ry="2" fill="none" stroke="#231815" stroke-width="0.85" transform="rotate(10 393.3 633.3)"/>
<circle cx="350.7" cy="650.2" r="1.6" fill="#231815"/>
<circle cx="354.3" cy="650.2" r="1.6" fill="#231815"/>
<circle cx="384.9" cy="650.2" r="1.6" fill="#231815"/>
<circle cx="388.5" cy="650.2" r="1.6" fill="#231815"/>
<circle cx="357.1" cy="661.3" r="1.3" fill="#231815"/>
<circle cx="381.0" cy="661.3" r="1.3" fill="#231815"/>
<circle cx="404.4" cy="661.3" r="1.3" fill="#231815"/>
<circle cx="426.8" cy="661.3" r="1.3" fill="#231815"/>
<circle cx="447.3" cy="661.3" r="1.3" fill="#231815"/>
<circle cx="357.1" cy="669.1" r="1.3" fill="#231815"/>
<circle cx="381.0" cy="669.1" r="1.3" fill="#231815"/>
<circle cx="404.4" cy="669.1" r="1.3" fill="#231815"/>
<circle cx="426.8" cy="669.1" r="1.3" fill="#231815"/>
<circle cx="447.3" cy="669.1" r="1.3" fill="#231815"/>
<circle cx="350.7" cy="679.0" r="1.6" fill="#231815"/>
<circle cx="354.3" cy="679.0" r="1.6" fill="#231815"/>
<circle cx="384.9" cy="679.0" r="1.6" fill="#231815"/>
<circle cx="388.5" cy="679.0" r="1.6" fill="#231815"/>
<circle cx="357.1" cy="690.0" r="1.3" fill="#231815"/>
<circle cx="381.0" cy="690.0" r="1.3" fill="#231815"/>
<circle cx="404.4" cy="690.0" r="1.3" fill="#231815"/>
<circle cx="426.8" cy="690.0" r="1.3" fill="#231815"/>
<circle cx="447.3" cy="690.0" r="1.3" fill="#231815"/>
<circle cx="350.7" cy="703.2" r="1.6" fill="#231815"/>
<circle cx="354.3" cy="703.2" r="1.6" fill="#231815"/>
<circle cx="384.9" cy="703.2" r="1.6" fill="#231815"/>
<circle cx="388.5" cy="703.2" r="1.6" fill="#231815"/>
<circle cx="350.7" cy="715.4" r="1.6" fill="#231815"/>
<circle cx="354.3" cy="715.4" r="1.6" fill="#231815"/>
<circle cx="384.9" cy="715.4" r="1.6" fill="#231815"/>
<circle cx="388.5" cy="715.4" r="1.6" fill="#231815"/>
<circle cx="347.3" cy="724.5" r="0.95" fill="#231815"/>
<circle cx="366.1" cy="724.5" r="0.95" fill="#231815"/>
<circle cx="387.2" cy="724.5" r="0.95" fill="#231815"/>
<circle cx="408.3" cy="724.5" r="0.95" fill="#231815"/>
<circle cx="432.7" cy="724.5" r="0.95" fill="#231815"/>
<circle cx="357.1" cy="734.8" r="1.3" fill="#231815"/>
<circle cx="381.0" cy="734.8" r="1.3" fill="#231815"/>
<circle cx="404.4" cy="734.8" r="1.3" fill="#231815"/>
<circle cx="426.8" cy="734.8" r="1.3" fill="#231815"/>
<circle cx="447.3" cy="734.8" r="1.3" fill="#231815"/>
<circle cx="371.5" cy="746.3" r="1.55" fill="#231815"/>
<circle cx="403.1" cy="746.3" r="1.55" fill="#231815"/>
<circle cx="435.8" cy="746.3" r="1.55" fill="#231815"/>
<circle cx="470.7" cy="746.3" r="1.55" fill="#231815"/>
<circle cx="404.4" cy="753.6" r="2.1" fill="#231815"/>
<circle cx="437.8" cy="753.6" r="2.1" fill="#231815"/>
<circle cx="471.3" cy="753.6" r="2.1" fill="#231815"/>
<ellipse cx="449.4" cy="753.8" rx="3" ry="2" fill="none" stroke="#231815" stroke-width="0.9" transform="rotate(0 449.4 753.8)"/>
<circle cx="371.5" cy="762.1" r="1.55" fill="#231815"/>
<circle cx="403.1" cy="762.1" r="1.55" fill="#231815"/>
<circle cx="435.8" cy="762.1" r="1.55" fill="#231815"/>
<circle cx="470.7" cy="762.1" r="1.55" fill="#231815"/>
<ellipse cx="385.6" cy="782.7" rx="4" ry="2.9" fill="none" stroke="#231815" stroke-width="0.8" transform="rotate(0 385.6 782.7)"/>
<circle cx="414.9" cy="783.0" r="1.9" fill="#231815"/>
<ellipse cx="441.7" cy="782.7" rx="3" ry="1.9" fill="none" stroke="#231815" stroke-width="0.8" transform="rotate(0 441.7 782.7)"/>
<circle cx="466.6" cy="783.3" r="1.9" fill="#231815"/>
<ellipse cx="492.6" cy="783.2" rx="3" ry="1.9" fill="none" stroke="#231815" stroke-width="0.9" transform="rotate(0 492.6 783.2)"/>
<circle cx="517.8" cy="782.6" r="1.9" fill="#231815"/>
<ellipse cx="540.9" cy="782.3" rx="3" ry="1.9" fill="none" stroke="#231815" stroke-width="0.8" transform="rotate(0 540.9 782.3)"/>
<circle cx="404.4" cy="800.2" r="2.1" fill="#231815"/>
<circle cx="437.8" cy="800.2" r="2.1" fill="#231815"/>
<circle cx="471.3" cy="800.2" r="2.1" fill="#231815"/>
<circle cx="403.9" cy="799.8" r="1.9" fill="#231815"/>
<ellipse cx="424.2" cy="800.2" rx="3.2" ry="2" fill="none" stroke="#231815" stroke-width="0.9" transform="rotate(0 424.2 800.2)"/>
<circle cx="437.1" cy="799.8" r="1.9" fill="#231815"/>
<ellipse cx="457.4" cy="800.3" rx="3.2" ry="2" fill="none" stroke="#231815" stroke-width="0.9" transform="rotate(0 457.4 800.3)"/>
<circle cx="470.2" cy="799.8" r="1.9" fill="#231815"/>
<circle cx="357.1" cy="814.6" r="1.3" fill="#231815"/>
<circle cx="381.0" cy="814.6" r="1.3" fill="#231815"/>
<circle cx="404.4" cy="814.6" r="1.3" fill="#231815"/>
<circle cx="426.8" cy="814.6" r="1.3" fill="#231815"/>
<circle cx="447.3" cy="814.6" r="1.3" fill="#231815"/>
<ellipse cx="380.0" cy="828.6" rx="3.8" ry="2.6" fill="none" stroke="#231815" stroke-width="0.8" transform="rotate(0 380.0 828.6)"/>
<ellipse cx="405.9" cy="829.0" rx="3.8" ry="2.6" fill="none" stroke="#231815" stroke-width="0.8" transform="rotate(0 405.9 829.0)"/>
<circle cx="428.8" cy="830.2" r="1.9" fill="#231815"/>
<line x1="442.0" y1="830.0" x2="449.0" y2="830.0" stroke="#3a302d" stroke-width="0.95"/>
<circle cx="462.0" cy="830.2" r="1.9" fill="#231815"/>
<ellipse cx="478.2" cy="828.8" rx="5.8" ry="4.2" fill="none" stroke="#231815" stroke-width="0.85" transform="rotate(35 478.2 828.8)"/>
<circle cx="495.2" cy="830.2" r="1.9" fill="#231815"/>
<ellipse cx="518.0" cy="829.6" rx="3.8" ry="2.5" fill="none" stroke="#231815" stroke-width="0.8" transform="rotate(0 518.0 829.6)"/>
<ellipse cx="545.0" cy="829.3" rx="3.8" ry="2.5" fill="none" stroke="#231815" stroke-width="0.8" transform="rotate(0 545.0 829.3)"/>
<circle cx="350.7" cy="836.8" r="1.6" fill="#231815"/>
<circle cx="354.3" cy="836.8" r="1.6" fill="#231815"/>
<circle cx="384.9" cy="836.8" r="1.6" fill="#231815"/>
<circle cx="388.5" cy="836.8" r="1.6" fill="#231815"/>
<circle cx="347.3" cy="845.0" r="0.95" fill="#231815"/>
<circle cx="366.1" cy="845.0" r="0.95" fill="#231815"/>
<circle cx="387.2" cy="845.0" r="0.95" fill="#231815"/>
<circle cx="408.3" cy="845.0" r="0.95" fill="#231815"/>
<circle cx="432.7" cy="845.0" r="0.95" fill="#231815"/>
<circle cx="350.7" cy="853.2" r="1.6" fill="#231815"/>
<circle cx="354.3" cy="853.2" r="1.6" fill="#231815"/>
<circle cx="384.9" cy="853.2" r="1.6" fill="#231815"/>
<circle cx="388.5" cy="853.2" r="1.6" fill="#231815"/>
<circle cx="347.3" cy="857.9" r="0.95" fill="#231815"/>
<circle cx="366.1" cy="857.9" r="0.95" fill="#231815"/>
<circle cx="387.2" cy="857.9" r="0.95" fill="#231815"/>
<circle cx="408.3" cy="857.9" r="0.95" fill="#231815"/>
<circle cx="432.7" cy="857.9" r="0.95" fill="#231815"/>
<circle cx="350.7" cy="868.3" r="1.6" fill="#231815"/>
<circle cx="354.3" cy="868.3" r="1.6" fill="#231815"/>
<circle cx="384.9" cy="868.3" r="1.6" fill="#231815"/>
<circle cx="388.5" cy="868.3" r="1.6" fill="#231815"/>
<circle cx="347.3" cy="878.0" r="0.95" fill="#231815"/>
<circle cx="366.1" cy="878.0" r="0.95" fill="#231815"/>
<circle cx="387.2" cy="878.0" r="0.95" fill="#231815"/>
<circle cx="408.3" cy="878.0" r="0.95" fill="#231815"/>
<circle cx="432.7" cy="878.0" r="0.95" fill="#231815"/>
<circle cx="350.7" cy="884.5" r="1.6" fill="#231815"/>
<circle cx="354.3" cy="884.5" r="1.6" fill="#231815"/>
<circle cx="384.9" cy="884.5" r="1.6" fill="#231815"/>
<circle cx="388.5" cy="884.5" r="1.6" fill="#231815"/>
<circle cx="357.1" cy="900.3" r="1.3" fill="#231815"/>
<circle cx="381.0" cy="900.3" r="1.3" fill="#231815"/>
<circle cx="404.4" cy="900.3" r="1.3" fill="#231815"/>
<circle cx="426.8" cy="900.3" r="1.3" fill="#231815"/>
<circle cx="447.3" cy="900.3" r="1.3" fill="#231815"/>
<circle cx="357.1" cy="915.5" r="1.3" fill="#231815"/>
<circle cx="381.0" cy="915.5" r="1.3" fill="#231815"/>
<circle cx="404.4" cy="915.5" r="1.3" fill="#231815"/>
<circle cx="426.8" cy="915.5" r="1.3" fill="#231815"/>
<circle cx="447.3" cy="915.5" r="1.3" fill="#231815"/>
<circle cx="357.1" cy="929.6" r="1.3" fill="#231815"/>
<circle cx="381.0" cy="929.6" r="1.3" fill="#231815"/>
<circle cx="404.4" cy="929.6" r="1.3" fill="#231815"/>
<circle cx="426.8" cy="929.6" r="1.3" fill="#231815"/>
<circle cx="447.3" cy="929.6" r="1.3" fill="#231815"/>
<ellipse cx="392.3" cy="943.4" rx="3.2" ry="2" fill="none" stroke="#231815" stroke-width="0.8" transform="rotate(0 392.3 943.4)"/>
<line x1="414.1" y1="943.6" x2="421.6" y2="943.6" stroke="#3a302d" stroke-width="0.95"/>
<ellipse cx="455.6" cy="943.4" rx="3.2" ry="2" fill="none" stroke="#231815" stroke-width="0.8" transform="rotate(0 455.6 943.4)"/>
<line x1="486.6" y1="943.2" x2="494.1" y2="943.2" stroke="#3a302d" stroke-width="0.95"/>
<ellipse cx="519.1" cy="943.2" rx="3.2" ry="2" fill="none" stroke="#231815" stroke-width="0.8" transform="rotate(0 519.1 943.2)"/>
<line x1="343.6" y1="950.9" x2="351.1" y2="950.9" stroke="#3a302d" stroke-width="0.95"/>
<line x1="359.6" y1="950.9" x2="367.1" y2="950.9" stroke="#3a302d" stroke-width="0.95"/>
<circle cx="357.1" cy="961.9" r="1.3" fill="#231815"/>
<circle cx="381.0" cy="961.9" r="1.3" fill="#231815"/>
<circle cx="404.4" cy="961.9" r="1.3" fill="#231815"/>
<circle cx="426.8" cy="961.9" r="1.3" fill="#231815"/>
<circle cx="447.3" cy="961.9" r="1.3" fill="#231815"/>
<circle cx="357.1" cy="979.3" r="1.3" fill="#231815"/>
<circle cx="381.0" cy="979.3" r="1.3" fill="#231815"/>
<circle cx="404.4" cy="979.3" r="1.3" fill="#231815"/>
<circle cx="426.8" cy="979.3" r="1.3" fill="#231815"/>
<circle cx="447.3" cy="979.3" r="1.3" fill="#231815"/>
<circle cx="357.1" cy="994.5" r="1.3" fill="#231815"/>
<circle cx="381.0" cy="994.5" r="1.3" fill="#231815"/>
<circle cx="404.4" cy="994.5" r="1.3" fill="#231815"/>
<circle cx="426.8" cy="994.5" r="1.3" fill="#231815"/>
<circle cx="447.3" cy="994.5" r="1.3" fill="#231815"/>
<circle cx="357.1" cy="1012.8" r="1.3" fill="#231815"/>
<circle cx="381.0" cy="1012.8" r="1.3" fill="#231815"/>
<circle cx="404.4" cy="1012.8" r="1.3" fill="#231815"/>
<circle cx="426.8" cy="1012.8" r="1.3" fill="#231815"/>
<circle cx="447.3" cy="1012.8" r="1.3" fill="#231815"/>
<circle cx="357.1" cy="1034.1" r="1.3" fill="#231815"/>
<circle cx="381.0" cy="1034.1" r="1.3" fill="#231815"/>
<circle cx="404.4" cy="1034.1" r="1.3" fill="#231815"/>
<circle cx="426.8" cy="1034.1" r="1.3" fill="#231815"/>
<circle cx="447.3" cy="1034.1" r="1.3" fill="#231815"/>
<circle cx="357.1" cy="1050.3" r="1.3" fill="#231815"/>
<circle cx="381.0" cy="1050.3" r="1.3" fill="#231815"/>
<circle cx="404.4" cy="1050.3" r="1.3" fill="#231815"/>
<circle cx="426.8" cy="1050.3" r="1.3" fill="#231815"/>
<circle cx="447.3" cy="1050.3" r="1.3" fill="#231815"/>
<circle cx="369.7" cy="966.5" r="2.2" fill="#231815"/>
<circle cx="414.7" cy="966.2" r="2.2" fill="#231815"/>
<circle cx="386.7" cy="1017.1" r="2.1" fill="#231815"/>
<circle cx="436.5" cy="1018.7" r="2.2" fill="#231815"/>
<ellipse cx="432.4" cy="1040.8" rx="3.2" ry="2" fill="none" stroke="#231815" stroke-width="0.85" transform="rotate(0 432.4 1040.8)"/>
<ellipse cx="391.3" cy="1050.8" rx="3.2" ry="2" fill="none" stroke="#231815" stroke-width="0.85" transform="rotate(0 391.3 1050.8)"/>
<ellipse cx="386.7" cy="1065.8" rx="3.8" ry="2.6" fill="none" stroke="#231815" stroke-width="0.8" transform="rotate(0 386.7 1065.8)"/>
<circle cx="421.4" cy="1065.4" r="1.9" fill="#231815"/>
<line x1="445.7" y1="1065.8" x2="453.7" y2="1065.8" stroke="#3a302d" stroke-width="0.95"/>
<ellipse cx="467.1" cy="1064.8" rx="6" ry="4.4" fill="none" stroke="#231815" stroke-width="0.85" transform="rotate(30 467.1 1064.8)"/>
<line x1="484.7" y1="1066.2" x2="492.7" y2="1066.2" stroke="#3a302d" stroke-width="0.95"/>
<ellipse cx="521.4" cy="1065.8" rx="3.6" ry="2.5" fill="none" stroke="#231815" stroke-width="1.0" transform="rotate(0 521.4 1065.8)"/>
<ellipse cx="548.9" cy="1065.2" rx="6" ry="4.4" fill="none" stroke="#231815" stroke-width="0.85" transform="rotate(30 548.9 1065.2)"/>
<circle cx="350.7" cy="1076.4" r="1.6" fill="#231815"/>
<circle cx="354.3" cy="1076.4" r="1.6" fill="#231815"/>
<circle cx="384.9" cy="1076.4" r="1.6" fill="#231815"/>
<circle cx="388.5" cy="1076.4" r="1.6" fill="#231815"/>
<circle cx="347.3" cy="1084.2" r="0.95" fill="#231815"/>
<circle cx="366.1" cy="1084.2" r="0.95" fill="#231815"/>
<circle cx="387.2" cy="1084.2" r="0.95" fill="#231815"/>
<circle cx="408.3" cy="1084.2" r="0.95" fill="#231815"/>
<circle cx="432.7" cy="1084.2" r="0.95" fill="#231815"/>
<circle cx="350.7" cy="1091.2" r="1.6" fill="#231815"/>
<circle cx="354.3" cy="1091.2" r="1.6" fill="#231815"/>
<circle cx="384.9" cy="1091.2" r="1.6" fill="#231815"/>
<circle cx="388.5" cy="1091.2" r="1.6" fill="#231815"/>
<circle cx="357.1" cy="1103.1" r="1.3" fill="#231815"/>
<circle cx="381.0" cy="1103.1" r="1.3" fill="#231815"/>
<circle cx="404.4" cy="1103.1" r="1.3" fill="#231815"/>
<circle cx="426.8" cy="1103.1" r="1.3" fill="#231815"/>
<circle cx="447.3" cy="1103.1" r="1.3" fill="#231815"/>
<circle cx="357.1" cy="1113.9" r="1.3" fill="#231815"/>
<circle cx="381.0" cy="1113.9" r="1.3" fill="#231815"/>
<circle cx="404.4" cy="1113.9" r="1.3" fill="#231815"/>
<circle cx="426.8" cy="1113.9" r="1.3" fill="#231815"/>
<circle cx="447.3" cy="1113.9" r="1.3" fill="#231815"/>
<circle cx="350.7" cy="1124.8" r="1.6" fill="#231815"/>
<circle cx="354.3" cy="1124.8" r="1.6" fill="#231815"/>
<circle cx="384.9" cy="1124.8" r="1.6" fill="#231815"/>
<circle cx="388.5" cy="1124.8" r="1.6" fill="#231815"/>
<circle cx="357.1" cy="1130.8" r="1.3" fill="#231815"/>
<circle cx="381.0" cy="1130.8" r="1.3" fill="#231815"/>
<circle cx="404.4" cy="1130.8" r="1.3" fill="#231815"/>
<circle cx="426.8" cy="1130.8" r="1.3" fill="#231815"/>
<circle cx="447.3" cy="1130.8" r="1.3" fill="#231815"/>
<circle cx="350.7" cy="1137.2" r="1.6" fill="#231815"/>
<circle cx="354.3" cy="1137.2" r="1.6" fill="#231815"/>
<circle cx="384.9" cy="1137.2" r="1.6" fill="#231815"/>
<circle cx="388.5" cy="1137.2" r="1.6" fill="#231815"/>
<circle cx="347.3" cy="1145.2" r="0.95" fill="#231815"/>
<circle cx="366.1" cy="1145.2" r="0.95" fill="#231815"/>
<circle cx="387.2" cy="1145.2" r="0.95" fill="#231815"/>
<circle cx="408.3" cy="1145.2" r="0.95" fill="#231815"/>
<circle cx="432.7" cy="1145.2" r="0.95" fill="#231815"/>
<circle cx="350.7" cy="1151.6" r="1.6" fill="#231815"/>
<circle cx="354.3" cy="1151.6" r="1.6" fill="#231815"/>
<circle cx="384.9" cy="1151.6" r="1.6" fill="#231815"/>
<circle cx="388.5" cy="1151.6" r="1.6" fill="#231815"/>
<circle cx="347.3" cy="1157.0" r="0.95" fill="#231815"/>
<circle cx="366.1" cy="1157.0" r="0.95" fill="#231815"/>
<circle cx="387.2" cy="1157.0" r="0.95" fill="#231815"/>
<circle cx="408.3" cy="1157.0" r="0.95" fill="#231815"/>
<circle cx="432.7" cy="1157.0" r="0.95" fill="#231815"/>
<circle cx="350.7" cy="1165.1" r="1.6" fill="#231815"/>
<circle cx="354.3" cy="1165.1" r="1.6" fill="#231815"/>
<circle cx="384.9" cy="1165.1" r="1.6" fill="#231815"/>
<circle cx="388.5" cy="1165.1" r="1.6" fill="#231815"/>
<circle cx="350.7" cy="1180.8" r="1.6" fill="#231815"/>
<circle cx="354.3" cy="1180.8" r="1.6" fill="#231815"/>
<circle cx="384.9" cy="1180.8" r="1.6" fill="#231815"/>
<circle cx="388.5" cy="1180.8" r="1.6" fill="#231815"/>
<circle cx="350.7" cy="1196.5" r="1.6" fill="#231815"/>
<circle cx="354.3" cy="1196.5" r="1.6" fill="#231815"/>
<circle cx="384.9" cy="1196.5" r="1.6" fill="#231815"/>
<circle cx="388.5" cy="1196.5" r="1.6" fill="#231815"/>
<circle cx="350.7" cy="1208.5" r="1.6" fill="#231815"/>
<circle cx="354.3" cy="1208.5" r="1.6" fill="#231815"/>
<circle cx="384.9" cy="1208.5" r="1.6" fill="#231815"/>
<circle cx="388.5" cy="1208.5" r="1.6" fill="#231815"/>
<circle cx="347.3" cy="1218.5" r="0.95" fill="#231815"/>
<circle cx="366.1" cy="1218.5" r="0.95" fill="#231815"/>
<circle cx="387.2" cy="1218.5" r="0.95" fill="#231815"/>
<circle cx="408.3" cy="1218.5" r="0.95" fill="#231815"/>
<circle cx="432.7" cy="1218.5" r="0.95" fill="#231815"/>
<circle cx="371.5" cy="1224.9" r="1.55" fill="#231815"/>
<circle cx="403.1" cy="1224.9" r="1.55" fill="#231815"/>
<circle cx="435.8" cy="1224.9" r="1.55" fill="#231815"/>
<circle cx="470.7" cy="1224.9" r="1.55" fill="#231815"/>
<circle cx="357.1" cy="1234.0" r="1.3" fill="#231815"/>
<circle cx="381.0" cy="1234.0" r="1.3" fill="#231815"/>
<circle cx="404.4" cy="1234.0" r="1.3" fill="#231815"/>
<circle cx="426.8" cy="1234.0" r="1.3" fill="#231815"/>
<circle cx="447.3" cy="1234.0" r="1.3" fill="#231815"/>
<circle cx="350.7" cy="1240.3" r="1.6" fill="#231815"/>
<circle cx="354.3" cy="1240.3" r="1.6" fill="#231815"/>
<circle cx="384.9" cy="1240.3" r="1.6" fill="#231815"/>
<circle cx="388.5" cy="1240.3" r="1.6" fill="#231815"/>
<circle cx="347.3" cy="1243.7" r="0.95" fill="#231815"/>
<circle cx="366.1" cy="1243.7" r="0.95" fill="#231815"/>
<circle cx="387.2" cy="1243.7" r="0.95" fill="#231815"/>
<circle cx="408.3" cy="1243.7" r="0.95" fill="#231815"/>
<circle cx="432.7" cy="1243.7" r="0.95" fill="#231815"/>
<circle cx="350.7" cy="1246.8" r="1.6" fill="#231815"/>
<circle cx="354.3" cy="1246.8" r="1.6" fill="#231815"/>
<circle cx="384.9" cy="1246.8" r="1.6" fill="#231815"/>
<circle cx="388.5" cy="1246.8" r="1.6" fill="#231815"/>
<circle cx="357.1" cy="1252.6" r="1.3" fill="#231815"/>
<circle cx="381.0" cy="1252.6" r="1.3" fill="#231815"/>
<circle cx="404.4" cy="1252.6" r="1.3" fill="#231815"/>
<circle cx="426.8" cy="1252.6" r="1.3" fill="#231815"/>
<circle cx="447.3" cy="1252.6" r="1.3" fill="#231815"/>
<circle cx="368.9" cy="1250.3" r="2.1" fill="#231815"/>
<circle cx="414.9" cy="1250.3" r="2.1" fill="#231815"/>
<circle cx="350.7" cy="1262.6" r="1.6" fill="#231815"/>
<circle cx="354.3" cy="1262.6" r="1.6" fill="#231815"/>
<circle cx="384.9" cy="1262.6" r="1.6" fill="#231815"/>
<circle cx="388.5" cy="1262.6" r="1.6" fill="#231815"/>
<circle cx="350.7" cy="1273.9" r="1.6" fill="#231815"/>
<circle cx="354.3" cy="1273.9" r="1.6" fill="#231815"/>
<circle cx="384.9" cy="1273.9" r="1.6" fill="#231815"/>
<circle cx="388.5" cy="1273.9" r="1.6" fill="#231815"/>
<circle cx="357.1" cy="1285.2" r="1.3" fill="#231815"/>
<circle cx="381.0" cy="1285.2" r="1.3" fill="#231815"/>
<circle cx="404.4" cy="1285.2" r="1.3" fill="#231815"/>
<circle cx="426.8" cy="1285.2" r="1.3" fill="#231815"/>
<circle cx="447.3" cy="1285.2" r="1.3" fill="#231815"/>
<circle cx="347.3" cy="1288.1" r="0.95" fill="#231815"/>
<circle cx="366.1" cy="1288.1" r="0.95" fill="#231815"/>
<circle cx="387.2" cy="1288.1" r="0.95" fill="#231815"/>
<circle cx="408.3" cy="1288.1" r="0.95" fill="#231815"/>
<circle cx="432.7" cy="1288.1" r="0.95" fill="#231815"/>
<circle cx="350.7" cy="1292.0" r="1.6" fill="#231815"/>
<circle cx="354.3" cy="1292.0" r="1.6" fill="#231815"/>
<circle cx="384.9" cy="1292.0" r="1.6" fill="#231815"/>
<circle cx="388.5" cy="1292.0" r="1.6" fill="#231815"/>
<circle cx="357.1" cy="1296.0" r="1.3" fill="#231815"/>
<circle cx="381.0" cy="1296.0" r="1.3" fill="#231815"/>
<circle cx="404.4" cy="1296.0" r="1.3" fill="#231815"/>
<circle cx="426.8" cy="1296.0" r="1.3" fill="#231815"/>
<circle cx="447.3" cy="1296.0" r="1.3" fill="#231815"/>
<circle cx="350.7" cy="1299.4" r="1.6" fill="#231815"/>
<circle cx="354.3" cy="1299.4" r="1.6" fill="#231815"/>
<circle cx="384.9" cy="1299.4" r="1.6" fill="#231815"/>
<circle cx="388.5" cy="1299.4" r="1.6" fill="#231815"/>
<circle cx="357.1" cy="1302.6" r="1.3" fill="#231815"/>
<circle cx="381.0" cy="1302.6" r="1.3" fill="#231815"/>
<circle cx="404.4" cy="1302.6" r="1.3" fill="#231815"/>
<circle cx="426.8" cy="1302.6" r="1.3" fill="#231815"/>
<circle cx="447.3" cy="1302.6" r="1.3" fill="#231815"/>
<circle cx="347.3" cy="1305.2" r="0.95" fill="#231815"/>
<circle cx="366.1" cy="1305.2" r="0.95" fill="#231815"/>
<circle cx="387.2" cy="1305.2" r="0.95" fill="#231815"/>
<circle cx="408.3" cy="1305.2" r="0.95" fill="#231815"/>
<circle cx="432.7" cy="1305.2" r="0.95" fill="#231815"/>
<circle cx="350.7" cy="1310.2" r="1.6" fill="#231815"/>
<circle cx="354.3" cy="1310.2" r="1.6" fill="#231815"/>
<circle cx="384.9" cy="1310.2" r="1.6" fill="#231815"/>
<circle cx="388.5" cy="1310.2" r="1.6" fill="#231815"/>
<circle cx="347.3" cy="1315.3" r="0.95" fill="#231815"/>
<circle cx="366.1" cy="1315.3" r="0.95" fill="#231815"/>
<circle cx="387.2" cy="1315.3" r="0.95" fill="#231815"/>
<circle cx="408.3" cy="1315.3" r="0.95" fill="#231815"/>
<circle cx="432.7" cy="1315.3" r="0.95" fill="#231815"/>
<circle cx="350.7" cy="1320.4" r="1.6" fill="#231815"/>
<circle cx="354.3" cy="1320.4" r="1.6" fill="#231815"/>
<circle cx="384.9" cy="1320.4" r="1.6" fill="#231815"/>
<circle cx="388.5" cy="1320.4" r="1.6" fill="#231815"/>
<circle cx="347.3" cy="1329.7" r="0.95" fill="#231815"/>
<circle cx="366.1" cy="1329.7" r="0.95" fill="#231815"/>
<circle cx="387.2" cy="1329.7" r="0.95" fill="#231815"/>
<circle cx="408.3" cy="1329.7" r="0.95" fill="#231815"/>
<circle cx="432.7" cy="1329.7" r="0.95" fill="#231815"/>
<circle cx="347.3" cy="1336.2" r="0.95" fill="#231815"/>
<circle cx="366.1" cy="1336.2" r="0.95" fill="#231815"/>
<circle cx="387.2" cy="1336.2" r="0.95" fill="#231815"/>
<circle cx="408.3" cy="1336.2" r="0.95" fill="#231815"/>
<circle cx="432.7" cy="1336.2" r="0.95" fill="#231815"/>
<circle cx="357.1" cy="1341.9" r="1.3" fill="#231815"/>
<circle cx="381.0" cy="1341.9" r="1.3" fill="#231815"/>
<circle cx="404.4" cy="1341.9" r="1.3" fill="#231815"/>
<circle cx="426.8" cy="1341.9" r="1.3" fill="#231815"/>
<circle cx="447.3" cy="1341.9" r="1.3" fill="#231815"/>
<circle cx="371.5" cy="1346.7" r="1.55" fill="#231815"/>
<circle cx="403.1" cy="1346.7" r="1.55" fill="#231815"/>
<circle cx="435.8" cy="1346.7" r="1.55" fill="#231815"/>
<circle cx="470.7" cy="1346.7" r="1.55" fill="#231815"/>
<circle cx="354.0" cy="1350.7" r="1.15" fill="#231815"/>
<circle cx="377.9" cy="1350.7" r="1.15" fill="#231815"/>
<circle cx="401.6" cy="1350.7" r="1.15" fill="#231815"/>
<circle cx="423.7" cy="1350.7" r="1.15" fill="#231815"/>
<circle cx="444.3" cy="1350.7" r="1.15" fill="#231815"/>
<circle cx="350.7" cy="1353.2" r="1.6" fill="#231815"/>
<circle cx="354.3" cy="1353.2" r="1.6" fill="#231815"/>
<circle cx="384.9" cy="1353.2" r="1.6" fill="#231815"/>
<circle cx="388.5" cy="1353.2" r="1.6" fill="#231815"/>
<circle cx="357.1" cy="1365.2" r="1.3" fill="#231815"/>
<circle cx="381.0" cy="1365.2" r="1.3" fill="#231815"/>
<circle cx="404.4" cy="1365.2" r="1.3" fill="#231815"/>
<circle cx="426.8" cy="1365.2" r="1.3" fill="#231815"/>
<circle cx="447.3" cy="1365.2" r="1.3" fill="#231815"/>
<circle cx="357.1" cy="1377.0" r="1.3" fill="#231815"/>
<circle cx="381.0" cy="1377.0" r="1.3" fill="#231815"/>
<circle cx="404.4" cy="1377.0" r="1.3" fill="#231815"/>
<circle cx="426.8" cy="1377.0" r="1.3" fill="#231815"/>
<circle cx="447.3" cy="1377.0" r="1.3" fill="#231815"/>
<line x1="343.6" y1="1386.6" x2="351.1" y2="1386.6" stroke="#3a302d" stroke-width="0.95"/>
<line x1="359.6" y1="1386.6" x2="367.1" y2="1386.6" stroke="#3a302d" stroke-width="0.95"/>
<circle cx="347.3" cy="1391.9" r="0.95" fill="#231815"/>
<circle cx="366.1" cy="1391.9" r="0.95" fill="#231815"/>
<circle cx="387.2" cy="1391.9" r="0.95" fill="#231815"/>
<circle cx="408.3" cy="1391.9" r="0.95" fill="#231815"/>
<circle cx="432.7" cy="1391.9" r="0.95" fill="#231815"/>
<circle cx="350.7" cy="1398.3" r="1.6" fill="#231815"/>
<circle cx="354.3" cy="1398.3" r="1.6" fill="#231815"/>
<circle cx="384.9" cy="1398.3" r="1.6" fill="#231815"/>
<circle cx="388.5" cy="1398.3" r="1.6" fill="#231815"/>
<circle cx="347.3" cy="1406.2" r="0.95" fill="#231815"/>
<circle cx="366.1" cy="1406.2" r="0.95" fill="#231815"/>
<circle cx="387.2" cy="1406.2" r="0.95" fill="#231815"/>
<circle cx="408.3" cy="1406.2" r="0.95" fill="#231815"/>
<circle cx="432.7" cy="1406.2" r="0.95" fill="#231815"/>
<circle cx="357.1" cy="1421.4" r="1.3" fill="#231815"/>
<circle cx="381.0" cy="1421.4" r="1.3" fill="#231815"/>
<circle cx="404.4" cy="1421.4" r="1.3" fill="#231815"/>
<circle cx="426.8" cy="1421.4" r="1.3" fill="#231815"/>
<circle cx="447.3" cy="1421.4" r="1.3" fill="#231815"/>
<circle cx="357.1" cy="1440.9" r="1.3" fill="#231815"/>
<circle cx="381.0" cy="1440.9" r="1.3" fill="#231815"/>
<circle cx="404.4" cy="1440.9" r="1.3" fill="#231815"/>
<circle cx="426.8" cy="1440.9" r="1.3" fill="#231815"/>
<circle cx="447.3" cy="1440.9" r="1.3" fill="#231815"/>
<circle cx="357.1" cy="1456.3" r="1.3" fill="#231815"/>
<circle cx="381.0" cy="1456.3" r="1.3" fill="#231815"/>
<circle cx="404.4" cy="1456.3" r="1.3" fill="#231815"/>
<circle cx="426.8" cy="1456.3" r="1.3" fill="#231815"/>
<circle cx="447.3" cy="1456.3" r="1.3" fill="#231815"/>
<line x1="343.6" y1="1469.5" x2="351.1" y2="1469.5" stroke="#3a302d" stroke-width="0.95"/>
<line x1="359.6" y1="1469.5" x2="367.1" y2="1469.5" stroke="#3a302d" stroke-width="0.95"/>
<circle cx="350.7" cy="1476.7" r="1.6" fill="#231815"/>
<circle cx="354.3" cy="1476.7" r="1.6" fill="#231815"/>
<circle cx="384.9" cy="1476.7" r="1.6" fill="#231815"/>
<circle cx="388.5" cy="1476.7" r="1.6" fill="#231815"/>
<line x1="366.0" y1="1476.8" x2="374.0" y2="1476.8" stroke="#3a302d" stroke-width="0.95"/>
<circle cx="371.5" cy="1484.5" r="1.55" fill="#231815"/>
<circle cx="403.1" cy="1484.5" r="1.55" fill="#231815"/>
<circle cx="435.8" cy="1484.5" r="1.55" fill="#231815"/>
<circle cx="470.7" cy="1484.5" r="1.55" fill="#231815"/>
<circle cx="347.3" cy="1494.9" r="0.95" fill="#231815"/>
<circle cx="366.1" cy="1494.9" r="0.95" fill="#231815"/>
<circle cx="387.2" cy="1494.9" r="0.95" fill="#231815"/>
<circle cx="408.3" cy="1494.9" r="0.95" fill="#231815"/>
<circle cx="432.7" cy="1494.9" r="0.95" fill="#231815"/>
<circle cx="347.3" cy="1504.7" r="0.95" fill="#231815"/>
<circle cx="366.1" cy="1504.7" r="0.95" fill="#231815"/>
<circle cx="387.2" cy="1504.7" r="0.95" fill="#231815"/>
<circle cx="408.3" cy="1504.7" r="0.95" fill="#231815"/>
<circle cx="432.7" cy="1504.7" r="0.95" fill="#231815"/>
<circle cx="347.3" cy="1513.2" r="0.95" fill="#231815"/>
<circle cx="366.1" cy="1513.2" r="0.95" fill="#231815"/>
<circle cx="387.2" cy="1513.2" r="0.95" fill="#231815"/>
<circle cx="408.3" cy="1513.2" r="0.95" fill="#231815"/>
<circle cx="432.7" cy="1513.2" r="0.95" fill="#231815"/>
<circle cx="357.1" cy="1523.2" r="1.3" fill="#231815"/>
<circle cx="381.0" cy="1523.2" r="1.3" fill="#231815"/>
<circle cx="404.4" cy="1523.2" r="1.3" fill="#231815"/>
<circle cx="426.8" cy="1523.2" r="1.3" fill="#231815"/>
<circle cx="447.3" cy="1523.2" r="1.3" fill="#231815"/>
<circle cx="357.1" cy="1539.1" r="1.3" fill="#231815"/>
<circle cx="381.0" cy="1539.1" r="1.3" fill="#231815"/>
<circle cx="404.4" cy="1539.1" r="1.3" fill="#231815"/>
<circle cx="426.8" cy="1539.1" r="1.3" fill="#231815"/>
<circle cx="447.3" cy="1539.1" r="1.3" fill="#231815"/>
<circle cx="357.1" cy="1555.3" r="1.3" fill="#231815"/>
<circle cx="381.0" cy="1555.3" r="1.3" fill="#231815"/>
<circle cx="404.4" cy="1555.3" r="1.3" fill="#231815"/>
<circle cx="426.8" cy="1555.3" r="1.3" fill="#231815"/>
<circle cx="447.3" cy="1555.3" r="1.3" fill="#231815"/>
<circle cx="369.4" cy="1543.0" r="1.9" fill="#231815"/>
<ellipse cx="394.9" cy="1547.6" rx="2.6" ry="1.6" fill="none" stroke="#231815" stroke-width="0.85" transform="rotate(0 394.9 1547.6)"/>
<circle cx="434.0" cy="1549.9" r="1.8" fill="#231815"/>
<line x1="343.6" y1="1565.4" x2="351.1" y2="1565.4" stroke="#3a302d" stroke-width="0.95"/>
<line x1="359.6" y1="1565.4" x2="367.1" y2="1565.4" stroke="#3a302d" stroke-width="0.95"/>
<circle cx="350.7" cy="1580.6" r="1.6" fill="#231815"/>
<circle cx="354.3" cy="1580.6" r="1.6" fill="#231815"/>
<circle cx="384.9" cy="1580.6" r="1.6" fill="#231815"/>
<circle cx="388.5" cy="1580.6" r="1.6" fill="#231815"/>
<circle cx="350.7" cy="1591.2" r="1.6" fill="#231815"/>
<circle cx="354.3" cy="1591.2" r="1.6" fill="#231815"/>
<circle cx="384.9" cy="1591.2" r="1.6" fill="#231815"/>
<circle cx="388.5" cy="1591.2" r="1.6" fill="#231815"/>
<circle cx="354.0" cy="1602.5" r="1.15" fill="#231815"/>
<circle cx="377.9" cy="1602.5" r="1.15" fill="#231815"/>
<circle cx="401.6" cy="1602.5" r="1.15" fill="#231815"/>
<circle cx="423.7" cy="1602.5" r="1.15" fill="#231815"/>
<circle cx="444.3" cy="1602.5" r="1.15" fill="#231815"/>
<circle cx="350.7" cy="1608.3" r="1.6" fill="#231815"/>
<circle cx="354.3" cy="1608.3" r="1.6" fill="#231815"/>
<circle cx="384.9" cy="1608.3" r="1.6" fill="#231815"/>
<circle cx="388.5" cy="1608.3" r="1.6" fill="#231815"/>
<circle cx="354.0" cy="1614.1" r="1.15" fill="#231815"/>
<circle cx="377.9" cy="1614.1" r="1.15" fill="#231815"/>
<circle cx="401.6" cy="1614.1" r="1.15" fill="#231815"/>
<circle cx="423.7" cy="1614.1" r="1.15" fill="#231815"/>
<circle cx="444.3" cy="1614.1" r="1.15" fill="#231815"/>
<circle cx="347.3" cy="1619.0" r="0.95" fill="#231815"/>
<circle cx="366.1" cy="1619.0" r="0.95" fill="#231815"/>
<circle cx="387.2" cy="1619.0" r="0.95" fill="#231815"/>
<circle cx="408.3" cy="1619.0" r="0.95" fill="#231815"/>
<circle cx="432.7" cy="1619.0" r="0.95" fill="#231815"/>
<circle cx="350.7" cy="1627.9" r="1.6" fill="#231815"/>
<circle cx="354.3" cy="1627.9" r="1.6" fill="#231815"/>
<circle cx="384.9" cy="1627.9" r="1.6" fill="#231815"/>
<circle cx="388.5" cy="1627.9" r="1.6" fill="#231815"/>
<circle cx="350.7" cy="1636.7" r="1.6" fill="#231815"/>
<circle cx="354.3" cy="1636.7" r="1.6" fill="#231815"/>
<circle cx="384.9" cy="1636.7" r="1.6" fill="#231815"/>
<circle cx="388.5" cy="1636.7" r="1.6" fill="#231815"/>
<circle cx="354.0" cy="1642.7" r="1.15" fill="#231815"/>
<circle cx="377.9" cy="1642.7" r="1.15" fill="#231815"/>
<circle cx="401.6" cy="1642.7" r="1.15" fill="#231815"/>
<circle cx="423.7" cy="1642.7" r="1.15" fill="#231815"/>
<circle cx="444.3" cy="1642.7" r="1.15" fill="#231815"/>
<circle cx="347.3" cy="1645.7" r="0.95" fill="#231815"/>
<circle cx="366.1" cy="1645.7" r="0.95" fill="#231815"/>
<circle cx="387.2" cy="1645.7" r="0.95" fill="#231815"/>
<circle cx="408.3" cy="1645.7" r="0.95" fill="#231815"/>
<circle cx="432.7" cy="1645.7" r="0.95" fill="#231815"/>
<circle cx="350.7" cy="1654.4" r="1.6" fill="#231815"/>
<circle cx="354.3" cy="1654.4" r="1.6" fill="#231815"/>
<circle cx="384.9" cy="1654.4" r="1.6" fill="#231815"/>
<circle cx="388.5" cy="1654.4" r="1.6" fill="#231815"/>
<circle cx="350.7" cy="1667.8" r="1.6" fill="#231815"/>
<circle cx="354.3" cy="1667.8" r="1.6" fill="#231815"/>
<circle cx="384.9" cy="1667.8" r="1.6" fill="#231815"/>
<circle cx="388.5" cy="1667.8" r="1.6" fill="#231815"/>
<circle cx="350.7" cy="1681.4" r="1.6" fill="#231815"/>
<circle cx="354.3" cy="1681.4" r="1.6" fill="#231815"/>
<circle cx="384.9" cy="1681.4" r="1.6" fill="#231815"/>
<circle cx="388.5" cy="1681.4" r="1.6" fill="#231815"/>
<circle cx="350.7" cy="1695.3" r="1.6" fill="#231815"/>
<circle cx="354.3" cy="1695.3" r="1.6" fill="#231815"/>
<circle cx="384.9" cy="1695.3" r="1.6" fill="#231815"/>
<circle cx="388.5" cy="1695.3" r="1.6" fill="#231815"/>
<circle cx="350.7" cy="1709.0" r="1.6" fill="#231815"/>
<circle cx="354.3" cy="1709.0" r="1.6" fill="#231815"/>
<circle cx="384.9" cy="1709.0" r="1.6" fill="#231815"/>
<circle cx="388.5" cy="1709.0" r="1.6" fill="#231815"/>
<circle cx="357.1" cy="1721.5" r="1.3" fill="#231815"/>
<circle cx="381.0" cy="1721.5" r="1.3" fill="#231815"/>
<circle cx="404.4" cy="1721.5" r="1.3" fill="#231815"/>
<circle cx="426.8" cy="1721.5" r="1.3" fill="#231815"/>
<circle cx="447.3" cy="1721.5" r="1.3" fill="#231815"/>
<circle cx="347.3" cy="1725.1" r="0.95" fill="#231815"/>
<circle cx="366.1" cy="1725.1" r="0.95" fill="#231815"/>
<circle cx="387.2" cy="1725.1" r="0.95" fill="#231815"/>
<circle cx="408.3" cy="1725.1" r="0.95" fill="#231815"/>
<circle cx="432.7" cy="1725.1" r="0.95" fill="#231815"/>
<circle cx="350.7" cy="1730.0" r="1.6" fill="#231815"/>
<circle cx="354.3" cy="1730.0" r="1.6" fill="#231815"/>
<circle cx="384.9" cy="1730.0" r="1.6" fill="#231815"/>
<circle cx="388.5" cy="1730.0" r="1.6" fill="#231815"/>
<circle cx="357.1" cy="1739.1" r="1.3" fill="#231815"/>
<circle cx="381.0" cy="1739.1" r="1.3" fill="#231815"/>
<circle cx="404.4" cy="1739.1" r="1.3" fill="#231815"/>
<circle cx="426.8" cy="1739.1" r="1.3" fill="#231815"/>
<circle cx="447.3" cy="1739.1" r="1.3" fill="#231815"/>
<circle cx="350.7" cy="1749.0" r="1.6" fill="#231815"/>
<circle cx="354.3" cy="1749.0" r="1.6" fill="#231815"/>
<circle cx="384.9" cy="1749.0" r="1.6" fill="#231815"/>
<circle cx="388.5" cy="1749.0" r="1.6" fill="#231815"/>
<circle cx="342.1" cy="1757.1" r="0.95" fill="#231815"/>
<circle cx="360.9" cy="1757.1" r="0.95" fill="#231815"/>
<circle cx="382.0" cy="1757.1" r="0.95" fill="#231815"/>
<circle cx="403.1" cy="1757.1" r="0.95" fill="#231815"/>
<circle cx="427.5" cy="1757.1" r="0.95" fill="#231815"/>
<circle cx="357.1" cy="1764.2" r="1.3" fill="#231815"/>
<circle cx="381.0" cy="1764.2" r="1.3" fill="#231815"/>
<circle cx="404.4" cy="1764.2" r="1.3" fill="#231815"/>
<circle cx="426.8" cy="1764.2" r="1.3" fill="#231815"/>
<circle cx="447.3" cy="1764.2" r="1.3" fill="#231815"/>
<circle cx="357.1" cy="1770.4" r="1.3" fill="#231815"/>
<circle cx="381.0" cy="1770.4" r="1.3" fill="#231815"/>
<circle cx="404.4" cy="1770.4" r="1.3" fill="#231815"/>
<circle cx="426.8" cy="1770.4" r="1.3" fill="#231815"/>
<circle cx="447.3" cy="1770.4" r="1.3" fill="#231815"/>
<circle cx="350.7" cy="1782.3" r="1.6" fill="#231815"/>
<circle cx="354.3" cy="1782.3" r="1.6" fill="#231815"/>
<circle cx="384.9" cy="1782.3" r="1.6" fill="#231815"/>
<circle cx="388.5" cy="1782.3" r="1.6" fill="#231815"/>
<circle cx="357.1" cy="1795.2" r="1.3" fill="#231815"/>
<circle cx="381.0" cy="1795.2" r="1.3" fill="#231815"/>
<circle cx="404.4" cy="1795.2" r="1.3" fill="#231815"/>
<circle cx="426.8" cy="1795.2" r="1.3" fill="#231815"/>
<circle cx="447.3" cy="1795.2" r="1.3" fill="#231815"/>
<circle cx="350.7" cy="1802.1" r="1.6" fill="#231815"/>
<circle cx="354.3" cy="1802.1" r="1.6" fill="#231815"/>
<circle cx="384.9" cy="1802.1" r="1.6" fill="#231815"/>
<circle cx="388.5" cy="1802.1" r="1.6" fill="#231815"/>
<circle cx="347.3" cy="1807.3" r="0.95" fill="#231815"/>
<circle cx="366.1" cy="1807.3" r="0.95" fill="#231815"/>
<circle cx="387.2" cy="1807.3" r="0.95" fill="#231815"/>
<circle cx="408.3" cy="1807.3" r="0.95" fill="#231815"/>
<circle cx="432.7" cy="1807.3" r="0.95" fill="#231815"/>
<circle cx="350.7" cy="1812.6" r="1.6" fill="#231815"/>
<circle cx="354.3" cy="1812.6" r="1.6" fill="#231815"/>
<circle cx="384.9" cy="1812.6" r="1.6" fill="#231815"/>
<circle cx="388.5" cy="1812.6" r="1.6" fill="#231815"/>
<circle cx="347.3" cy="1817.7" r="0.95" fill="#231815"/>
<circle cx="366.1" cy="1817.7" r="0.95" fill="#231815"/>
<circle cx="387.2" cy="1817.7" r="0.95" fill="#231815"/>
<circle cx="408.3" cy="1817.7" r="0.95" fill="#231815"/>
<circle cx="432.7" cy="1817.7" r="0.95" fill="#231815"/>
<circle cx="350.7" cy="1825.2" r="1.6" fill="#231815"/>
<circle cx="354.3" cy="1825.2" r="1.6" fill="#231815"/>
<circle cx="384.9" cy="1825.2" r="1.6" fill="#231815"/>
<circle cx="388.5" cy="1825.2" r="1.6" fill="#231815"/>
<circle cx="350.7" cy="1835.5" r="1.6" fill="#231815"/>
<circle cx="354.3" cy="1835.5" r="1.6" fill="#231815"/>
<circle cx="384.9" cy="1835.5" r="1.6" fill="#231815"/>
<circle cx="388.5" cy="1835.5" r="1.6" fill="#231815"/>
<circle cx="347.3" cy="1842.0" r="0.95" fill="#231815"/>
<circle cx="366.1" cy="1842.0" r="0.95" fill="#231815"/>
<circle cx="387.2" cy="1842.0" r="0.95" fill="#231815"/>
<circle cx="408.3" cy="1842.0" r="0.95" fill="#231815"/>
<circle cx="432.7" cy="1842.0" r="0.95" fill="#231815"/>
<circle cx="350.7" cy="1854.8" r="1.6" fill="#231815"/>
<circle cx="354.3" cy="1854.8" r="1.6" fill="#231815"/>
<circle cx="384.9" cy="1854.8" r="1.6" fill="#231815"/>
<circle cx="388.5" cy="1854.8" r="1.6" fill="#231815"/>
<circle cx="350.7" cy="1871.0" r="1.6" fill="#231815"/>
<circle cx="354.3" cy="1871.0" r="1.6" fill="#231815"/>
<circle cx="384.9" cy="1871.0" r="1.6" fill="#231815"/>
<circle cx="388.5" cy="1871.0" r="1.6" fill="#231815"/>
<circle cx="350.7" cy="1887.3" r="1.6" fill="#231815"/>
<circle cx="354.3" cy="1887.3" r="1.6" fill="#231815"/>
<circle cx="384.9" cy="1887.3" r="1.6" fill="#231815"/>
<circle cx="388.5" cy="1887.3" r="1.6" fill="#231815"/>
<circle cx="350.7" cy="1903.6" r="1.6" fill="#231815"/>
<circle cx="354.3" cy="1903.6" r="1.6" fill="#231815"/>
<circle cx="384.9" cy="1903.6" r="1.6" fill="#231815"/>
<circle cx="388.5" cy="1903.6" r="1.6" fill="#231815"/>
<circle cx="350.7" cy="1921.4" r="1.6" fill="#231815"/>
<circle cx="354.3" cy="1921.4" r="1.6" fill="#231815"/>
<circle cx="384.9" cy="1921.4" r="1.6" fill="#231815"/>
<circle cx="388.5" cy="1921.4" r="1.6" fill="#231815"/>
<circle cx="350.7" cy="1937.0" r="1.6" fill="#231815"/>
<circle cx="354.3" cy="1937.0" r="1.6" fill="#231815"/>
<circle cx="384.9" cy="1937.0" r="1.6" fill="#231815"/>
<circle cx="388.5" cy="1937.0" r="1.6" fill="#231815"/>
<circle cx="350.7" cy="1952.5" r="1.6" fill="#231815"/>
<circle cx="354.3" cy="1952.5" r="1.6" fill="#231815"/>
<circle cx="384.9" cy="1952.5" r="1.6" fill="#231815"/>
<circle cx="388.5" cy="1952.5" r="1.6" fill="#231815"/>
<circle cx="350.7" cy="1967.9" r="1.6" fill="#231815"/>
<circle cx="354.3" cy="1967.9" r="1.6" fill="#231815"/>
<circle cx="384.9" cy="1967.9" r="1.6" fill="#231815"/>
<circle cx="388.5" cy="1967.9" r="1.6" fill="#231815"/>
<circle cx="350.7" cy="1982.5" r="1.6" fill="#231815"/>
<circle cx="354.3" cy="1982.5" r="1.6" fill="#231815"/>
<circle cx="384.9" cy="1982.5" r="1.6" fill="#231815"/>
<circle cx="388.5" cy="1982.5" r="1.6" fill="#231815"/>
<circle cx="350.7" cy="1996.4" r="1.6" fill="#231815"/>
<circle cx="354.3" cy="1996.4" r="1.6" fill="#231815"/>
<circle cx="384.9" cy="1996.4" r="1.6" fill="#231815"/>
<circle cx="388.5" cy="1996.4" r="1.6" fill="#231815"/>
</g>
<line x1="338.50" y1="143.20" x2="338.50" y2="2007.10" stroke="#000" stroke-width="2.2" stroke-linecap="butt"/>
<line x1="338.50" y1="2006.00" x2="338.50" y2="2074.40" stroke="#231815" stroke-width="2.0" stroke-linecap="butt"/>
<text x="391.69" y="2045.30" font-size="29.5" letter-spacing="1.989" word-spacing="0" fill="#231815">sl</text>
<text x="588.75" y="2045.30" font-size="29.5" letter-spacing="2.515" word-spacing="0" fill="#231815">gr</text>
<text x="652.25" y="2045.30" font-size="29.5" letter-spacing="0.411" word-spacing="0" fill="#231815">cb</text>
<text x="470.05" y="2045.30" font-size="29.5" letter-spacing="0.000" word-spacing="0" fill="#231815">f</text>
<text x="530.90" y="2045.30" font-size="29.5" letter-spacing="0.000" word-spacing="0" fill="#231815">c</text>
<text x="357.00" y="2128.30" font-size="29.5" letter-spacing="2.931" word-spacing="0" fill="#231815">cl</text>
<text x="427.35" y="2128.30" font-size="29.5" letter-spacing="-0.363" word-spacing="0" fill="#231815">vf</text>
<text x="555.35" y="2128.30" font-size="29.5" letter-spacing="0.209" word-spacing="0" fill="#231815">vc</text>
<text x="624.33" y="2128.30" font-size="29.5" letter-spacing="1.602" word-spacing="0" fill="#231815">pb</text>
<text x="493.28" y="2128.30" font-size="29.5" letter-spacing="0.000" word-spacing="0" fill="#231815">m</text>
<rect x="890.20" y="144.30" width="78.80" height="1861.80" fill="#fff" stroke="#000" stroke-width="1.8"/>
<rect x="889.20" y="143.40" width="80.40" height="627.20" fill="#000"/>
<rect x="889.20" y="978.60" width="80.40" height="70.30" fill="#000"/>
<rect x="889.20" y="1311.40" width="80.40" height="47.50" fill="#000"/>
<rect x="889.20" y="1896.00" width="80.40" height="25.10" fill="#000"/>
<text x="821.87" y="781.40" font-size="29.5" letter-spacing="1.616" word-spacing="0" fill="#000">B/M</text>
<text x="749.56" y="1026.60" font-size="29.5" letter-spacing="1.065" word-spacing="0" fill="#000">Jaramillo</text>
<text x="735.62" y="1344.90" font-size="29.5" letter-spacing="1.083" word-spacing="-2.6" fill="#000">Cobb Mtn.</text>
<text x="804.23" y="1920.00" font-size="29.5" letter-spacing="0.872" word-spacing="0" fill="#000">Gilsa</text>
<text x="973.16" y="779.10" font-size="28.5" letter-spacing="2.006" word-spacing="0" fill="#231815">0.78</text>
<text x="976.46" y="992.90" font-size="28.5" letter-spacing="0.929" word-spacing="0" fill="#231815">1.09</text>
<text x="976.46" y="1061.40" font-size="28.5" letter-spacing="0.677" word-spacing="0" fill="#231815">1.07</text>
<text x="975.76" y="1319.40" font-size="28.5" letter-spacing="0.520" word-spacing="0" fill="#231815">1.21</text>
<text x="975.76" y="1372.90" font-size="28.5" letter-spacing="0.830" word-spacing="0" fill="#231815">1.24</text>
<text x="975.76" y="1901.70" font-size="28.5" letter-spacing="1.043" word-spacing="0" fill="#231815">1.67</text>
<text x="975.76" y="1936.00" font-size="28.5" letter-spacing="1.072" word-spacing="0" fill="#231815">1.68</text>
<rect x="1182.10" y="144.30" width="136.00" height="1862.20" fill="none" stroke="#231815" stroke-width="2.3"/>
<line x1="1182.10" y1="1071.30" x2="1318.10" y2="1071.30" stroke="#231815" stroke-width="2.3" stroke-linecap="butt"/>
<line x1="1250.00" y1="1071.30" x2="1250.00" y2="1918.40" stroke="#231815" stroke-width="2.3" stroke-linecap="butt"/>
<line x1="1250.00" y1="1271.40" x2="1318.10" y2="1271.40" stroke="#231815" stroke-width="2.3" stroke-linecap="butt"/>
<line x1="1250.00" y1="1559.30" x2="1318.10" y2="1559.30" stroke="#231815" stroke-width="2.3" stroke-linecap="butt"/>
<line x1="1182.10" y1="1918.40" x2="1318.10" y2="1918.40" stroke="#231815" stroke-width="2.3" stroke-linecap="butt"/>
<text transform="translate(1239.30,560.97) rotate(90)" font-size="29.5" letter-spacing="1.395" word-spacing="0" fill="#231815">Fluvial</text>
<text transform="translate(1272.50,1098.17) rotate(90)" font-size="29.5" letter-spacing="1.049" word-spacing="-2.5" fill="#231815">Delta front</text>
<text transform="translate(1278.50,1341.07) rotate(90)" font-size="29.5" letter-spacing="1.096" word-spacing="-2.5" fill="#231815">Delta plain</text>
<text transform="translate(1205.60,1458.27) rotate(90)" font-size="29.5" letter-spacing="0.431" word-spacing="0" fill="#231815">Delta</text>
<text transform="translate(1272.50,1665.07) rotate(90)" font-size="29.5" letter-spacing="1.089" word-spacing="-2.5" fill="#231815">Delta front</text>
<text x="1176.47" y="1972.30" font-size="29.5" letter-spacing="1.135" word-spacing="0" fill="#231815">Lacustrine</text>
<text x="1338.86" y="1080.70" font-size="28.5" letter-spacing="1.439" word-spacing="0" fill="#231815">1.08</text>
<text x="1338.86" y="1276.30" font-size="28.5" letter-spacing="1.396" word-spacing="0" fill="#231815">1.19</text>
<text x="1338.86" y="1566.30" font-size="28.5" letter-spacing="1.391" word-spacing="0" fill="#231815">1.40</text>
<text x="1338.86" y="1923.60" font-size="28.5" letter-spacing="1.439" word-spacing="0" fill="#231815">1.68</text>
</svg>
</body></html>
